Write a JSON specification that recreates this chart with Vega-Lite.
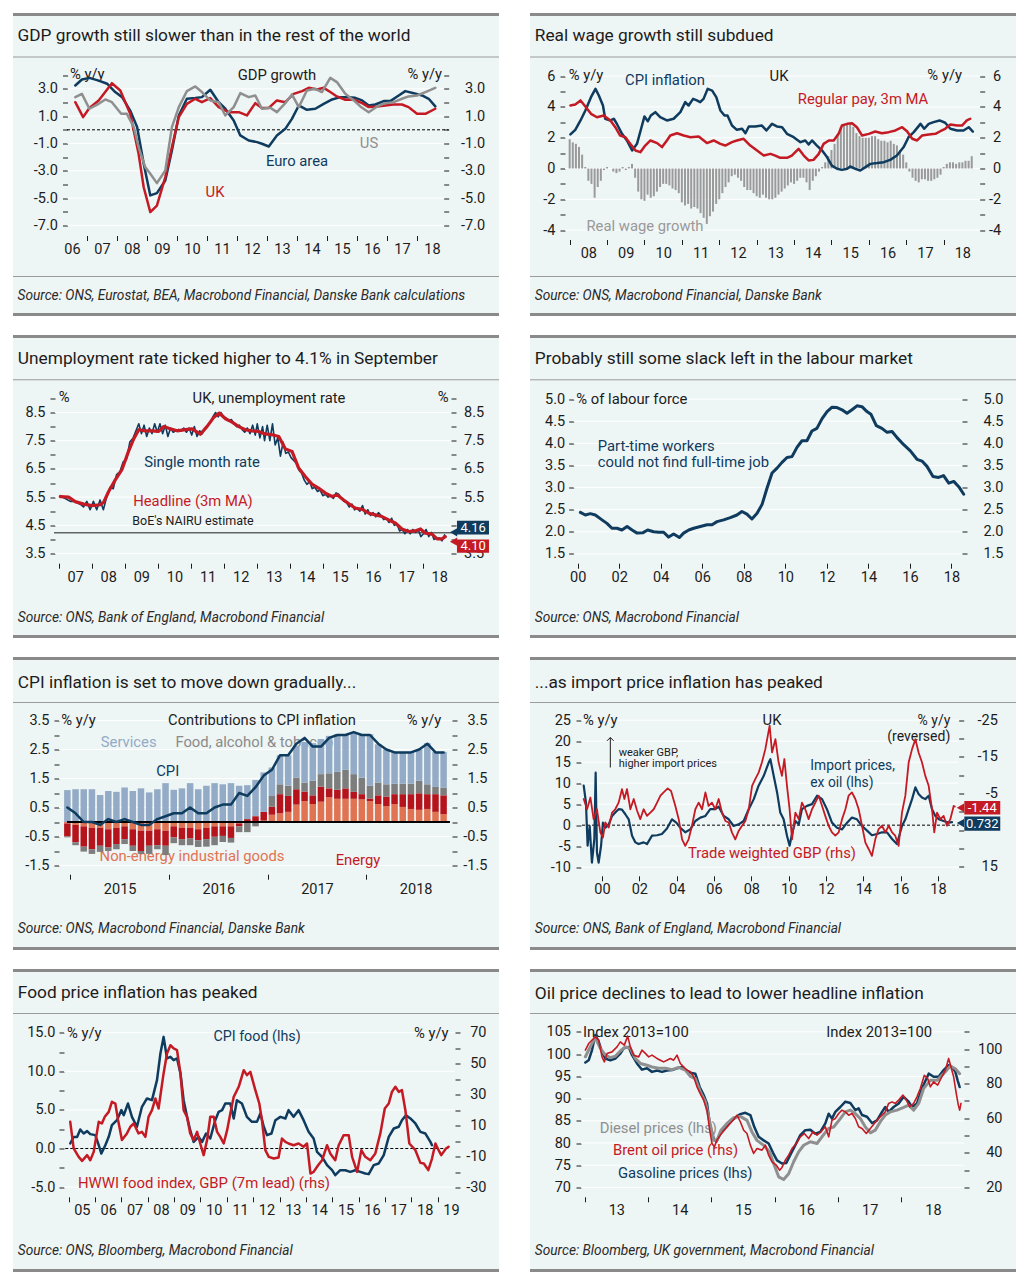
{
"$schema": "https://vega.github.io/schema/vega-lite/v6.json",
"background": "#ffffff",
"padding": {"left": 11, "top": 12.5, "right": 5, "bottom": 5},
"config": {
  "view": {"fill": "#eef5f5", "stroke": null},
  "axis": {"domain": false, "grid": false, "tickSize": 5, "tickCount": 50, "tickColor": "#1c1c1c", "labelColor": "#1c1c1c", "labelFont": "Roboto", "labelFontSize": 14.5, "labelOverlap": false, "labelFlush": false, "title": null},
  "scale": {"continuousPadding": 0},
  "text": {"font": "Roboto"},
  "line": {"strokeJoin": "round", "strokeCap": "round"}
},
"datasets": {
  "p1_uk": [{"t":2006.61,"v":2.02},{"t":2006.87,"v":0.93},{"t":2007.08,"v":1.6},{"t":2007.39,"v":2.15},{"t":2007.83,"v":3.41},{"t":2008.11,"v":2.88},{"t":2008.44,"v":1.17},{"t":2008.72,"v":-1.76},{"t":2008.89,"v":-4.2},{"t":2009.11,"v":-6.02},{"t":2009.33,"v":-5.54},{"t":2009.61,"v":-3.46},{"t":2009.83,"v":-1.27},{"t":2010.06,"v":0.93},{"t":2010.33,"v":1.9},{"t":2010.61,"v":2.27},{"t":2010.83,"v":2.02},{"t":2011.11,"v":2.32},{"t":2011.39,"v":1.66},{"t":2011.72,"v":1.29},{"t":2012.06,"v":1.29},{"t":2012.33,"v":1.05},{"t":2012.61,"v":1.95},{"t":2012.83,"v":1.6},{"t":2013.06,"v":1.6},{"t":2013.33,"v":2.15},{"t":2013.61,"v":2.02},{"t":2013.89,"v":2.63},{"t":2014.17,"v":2.83},{"t":2014.39,"v":3.07},{"t":2014.67,"v":2.95},{"t":2014.89,"v":3.07},{"t":2015.11,"v":2.76},{"t":2015.33,"v":2.44},{"t":2015.61,"v":2.2},{"t":2015.89,"v":2.2},{"t":2016.17,"v":1.95},{"t":2016.39,"v":1.66},{"t":2016.67,"v":1.71},{"t":2016.94,"v":1.78},{"t":2017.22,"v":1.85},{"t":2017.5,"v":1.85},{"t":2017.72,"v":1.66},{"t":2018.0,"v":1.17},{"t":2018.28,"v":1.17},{"t":2018.61,"v":1.54}],
  "p1_ea": [{"t":2006.61,"v":3.24},{"t":2006.83,"v":3.68},{"t":2007.08,"v":3.8},{"t":2007.39,"v":3.6},{"t":2007.67,"v":3.37},{"t":2007.94,"v":2.76},{"t":2008.17,"v":2.39},{"t":2008.44,"v":1.41},{"t":2008.67,"v":0.2},{"t":2008.89,"v":-2.49},{"t":2009.11,"v":-4.8},{"t":2009.33,"v":-4.63},{"t":2009.61,"v":-3.71},{"t":2009.83,"v":-1.51},{"t":2010.06,"v":1.05},{"t":2010.33,"v":2.27},{"t":2010.61,"v":2.32},{"t":2010.83,"v":2.39},{"t":2011.11,"v":2.93},{"t":2011.39,"v":2.02},{"t":2011.61,"v":1.54},{"t":2011.89,"v":0.68},{"t":2012.11,"v":-0.41},{"t":2012.39,"v":-0.78},{"t":2012.67,"v":-0.9},{"t":2012.83,"v":-1.02},{"t":2013.06,"v":-1.22},{"t":2013.33,"v":-0.41},{"t":2013.61,"v":0.07},{"t":2013.83,"v":0.8},{"t":2014.06,"v":1.78},{"t":2014.33,"v":1.46},{"t":2014.61,"v":1.54},{"t":2014.89,"v":1.9},{"t":2015.17,"v":2.22},{"t":2015.44,"v":2.39},{"t":2015.72,"v":2.39},{"t":2015.94,"v":2.34},{"t":2016.17,"v":2.15},{"t":2016.39,"v":1.78},{"t":2016.61,"v":1.85},{"t":2016.89,"v":2.1},{"t":2017.11,"v":2.1},{"t":2017.39,"v":2.51},{"t":2017.61,"v":2.83},{"t":2017.89,"v":2.68},{"t":2018.17,"v":2.51},{"t":2018.39,"v":2.27},{"t":2018.61,"v":1.71}],
  "p1_us": [{"t":2006.61,"v":2.39},{"t":2006.83,"v":2.63},{"t":2007.08,"v":1.54},{"t":2007.39,"v":1.9},{"t":2007.61,"v":2.22},{"t":2007.83,"v":2.02},{"t":2008.14,"v":1.17},{"t":2008.33,"v":1.17},{"t":2008.56,"v":0.2},{"t":2008.72,"v":-1.27},{"t":2008.94,"v":-2.73},{"t":2009.11,"v":-3.22},{"t":2009.33,"v":-3.9},{"t":2009.61,"v":-2.98},{"t":2009.83,"v":0.2},{"t":2010.06,"v":1.66},{"t":2010.33,"v":2.83},{"t":2010.61,"v":3.17},{"t":2010.83,"v":2.76},{"t":2011.11,"v":2.15},{"t":2011.39,"v":2.02},{"t":2011.61,"v":1.05},{"t":2011.89,"v":1.66},{"t":2012.11,"v":2.68},{"t":2012.39,"v":2.39},{"t":2012.61,"v":2.51},{"t":2012.83,"v":1.54},{"t":2013.11,"v":1.61},{"t":2013.33,"v":1.29},{"t":2013.61,"v":1.95},{"t":2013.83,"v":2.59},{"t":2014.06,"v":1.66},{"t":2014.33,"v":2.88},{"t":2014.61,"v":3.0},{"t":2014.83,"v":2.76},{"t":2015.11,"v":3.8},{"t":2015.33,"v":3.49},{"t":2015.61,"v":2.63},{"t":2015.89,"v":2.15},{"t":2016.11,"v":1.71},{"t":2016.39,"v":1.29},{"t":2016.67,"v":1.71},{"t":2016.94,"v":1.95},{"t":2017.22,"v":2.02},{"t":2017.5,"v":2.27},{"t":2017.72,"v":2.44},{"t":2018.0,"v":2.51},{"t":2018.28,"v":2.76},{"t":2018.61,"v":3.07}],
  "p2_cpi": [{"t":2008.02,"v":2.21},{"t":2008.15,"v":2.51},{"t":2008.29,"v":3.12},{"t":2008.42,"v":3.77},{"t":2008.57,"v":4.63},{"t":2008.69,"v":5.17},{"t":2008.78,"v":4.74},{"t":2008.89,"v":4.09},{"t":2008.95,"v":3.23},{"t":2009.09,"v":3.12},{"t":2009.18,"v":3.23},{"t":2009.27,"v":2.86},{"t":2009.4,"v":2.25},{"t":2009.53,"v":1.82},{"t":2009.67,"v":1.17},{"t":2009.8,"v":1.6},{"t":2009.91,"v":2.58},{"t":2010.0,"v":3.38},{"t":2010.09,"v":3.07},{"t":2010.17,"v":3.44},{"t":2010.29,"v":3.66},{"t":2010.42,"v":3.33},{"t":2010.6,"v":3.12},{"t":2010.78,"v":3.23},{"t":2010.96,"v":3.66},{"t":2011.09,"v":4.31},{"t":2011.18,"v":4.09},{"t":2011.3,"v":4.52},{"t":2011.4,"v":4.42},{"t":2011.49,"v":4.31},{"t":2011.58,"v":4.52},{"t":2011.69,"v":5.17},{"t":2011.81,"v":5.06},{"t":2011.92,"v":4.63},{"t":2012.03,"v":3.77},{"t":2012.14,"v":3.44},{"t":2012.22,"v":3.44},{"t":2012.34,"v":2.79},{"t":2012.47,"v":2.51},{"t":2012.61,"v":2.58},{"t":2012.7,"v":2.29},{"t":2012.79,"v":2.73},{"t":2012.96,"v":2.73},{"t":2013.14,"v":2.79},{"t":2013.26,"v":2.47},{"t":2013.41,"v":2.9},{"t":2013.54,"v":2.73},{"t":2013.68,"v":2.68},{"t":2013.81,"v":2.25},{"t":2013.99,"v":2.03},{"t":2014.17,"v":1.71},{"t":2014.3,"v":1.82},{"t":2014.39,"v":1.56},{"t":2014.48,"v":1.82},{"t":2014.61,"v":1.49},{"t":2014.75,"v":1.17},{"t":2014.88,"v":0.74},{"t":2015.01,"v":0.19},{"t":2015.15,"v":-0.02},{"t":2015.28,"v":-0.09},{"t":2015.42,"v":-0.02},{"t":2015.5,"v":0.13},{"t":2015.64,"v":-0.02},{"t":2015.77,"v":-0.13},{"t":2015.91,"v":0.09},{"t":2016.04,"v":0.3},{"t":2016.22,"v":0.35},{"t":2016.4,"v":0.41},{"t":2016.57,"v":0.56},{"t":2016.75,"v":0.84},{"t":2016.93,"v":1.39},{"t":2017.06,"v":2.03},{"t":2017.2,"v":2.36},{"t":2017.38,"v":2.9},{"t":2017.48,"v":2.58},{"t":2017.6,"v":2.9},{"t":2017.73,"v":3.01},{"t":2017.89,"v":3.12},{"t":2018.04,"v":2.97},{"t":2018.18,"v":2.58},{"t":2018.36,"v":2.47},{"t":2018.53,"v":2.47},{"t":2018.67,"v":2.68},{"t":2018.78,"v":2.4}],
  "p2_pay": [{"t":2008.02,"v":4.09},{"t":2008.15,"v":4.16},{"t":2008.29,"v":4.42},{"t":2008.42,"v":4.03},{"t":2008.57,"v":3.55},{"t":2008.73,"v":3.33},{"t":2008.91,"v":3.44},{"t":2009.09,"v":3.12},{"t":2009.22,"v":2.68},{"t":2009.35,"v":2.14},{"t":2009.49,"v":2.03},{"t":2009.62,"v":1.6},{"t":2009.76,"v":1.17},{"t":2009.89,"v":1.06},{"t":2010.02,"v":1.49},{"t":2010.16,"v":1.82},{"t":2010.34,"v":1.65},{"t":2010.47,"v":1.39},{"t":2010.6,"v":1.82},{"t":2010.69,"v":2.14},{"t":2010.87,"v":2.29},{"t":2011.05,"v":2.14},{"t":2011.23,"v":2.03},{"t":2011.45,"v":2.08},{"t":2011.67,"v":1.65},{"t":2011.85,"v":1.82},{"t":2012.03,"v":1.6},{"t":2012.16,"v":1.49},{"t":2012.34,"v":1.71},{"t":2012.47,"v":1.82},{"t":2012.65,"v":1.93},{"t":2012.83,"v":1.49},{"t":2013.01,"v":1.17},{"t":2013.19,"v":0.84},{"t":2013.37,"v":0.95},{"t":2013.5,"v":0.84},{"t":2013.63,"v":0.69},{"t":2013.81,"v":0.69},{"t":2013.94,"v":0.84},{"t":2014.12,"v":1.28},{"t":2014.26,"v":0.84},{"t":2014.39,"v":0.52},{"t":2014.52,"v":0.56},{"t":2014.66,"v":0.95},{"t":2014.79,"v":1.6},{"t":2014.93,"v":1.82},{"t":2015.06,"v":1.82},{"t":2015.19,"v":2.25},{"t":2015.28,"v":2.79},{"t":2015.42,"v":2.9},{"t":2015.55,"v":2.94},{"t":2015.68,"v":2.68},{"t":2015.82,"v":2.14},{"t":2016.0,"v":2.25},{"t":2016.17,"v":2.4},{"t":2016.35,"v":2.29},{"t":2016.53,"v":2.36},{"t":2016.71,"v":2.47},{"t":2016.89,"v":2.68},{"t":2017.02,"v":2.42},{"t":2017.16,"v":1.93},{"t":2017.29,"v":1.82},{"t":2017.42,"v":2.14},{"t":2017.6,"v":2.21},{"t":2017.78,"v":2.25},{"t":2017.91,"v":2.42},{"t":2018.04,"v":2.58},{"t":2018.18,"v":2.86},{"t":2018.36,"v":2.79},{"t":2018.49,"v":2.79},{"t":2018.62,"v":3.12},{"t":2018.71,"v":3.23}],
  "p2_rw": [{"t":2008.0,"v":1.9},{"t":2008.083,"v":1.7},{"t":2008.167,"v":1.6},{"t":2008.25,"v":1.4},{"t":2008.333,"v":0.9},{"t":2008.417,"v":0.1},{"t":2008.5,"v":-0.8},{"t":2008.583,"v":-1.0},{"t":2008.667,"v":-1.9},{"t":2008.75,"v":-1.2},{"t":2008.833,"v":-0.8},{"t":2008.917,"v":-0.1},
    {"t":2009.0,"v":0.1},{"t":2009.083,"v":0.0},{"t":2009.167,"v":-0.2},{"t":2009.25,"v":-0.3},{"t":2009.333,"v":-0.2},{"t":2009.417,"v":0.1},{"t":2009.5,"v":-0.1},{"t":2009.583,"v":0.1},{"t":2009.667,"v":0.3},{"t":2009.75,"v":-0.6},{"t":2009.833,"v":-1.5},{"t":2009.917,"v":-2.0},
    {"t":2010.0,"v":-2.1},{"t":2010.083,"v":-1.7},{"t":2010.167,"v":-1.9},{"t":2010.25,"v":-1.8},{"t":2010.333,"v":-1.5},{"t":2010.417,"v":-1.2},{"t":2010.5,"v":-1.0},{"t":2010.583,"v":-1.0},{"t":2010.667,"v":-1.1},{"t":2010.75,"v":-1.3},{"t":2010.833,"v":-1.4},{"t":2010.917,"v":-1.6},
    {"t":2011.0,"v":-2.2},{"t":2011.083,"v":-2.4},{"t":2011.167,"v":-2.3},{"t":2011.25,"v":-2.6},{"t":2011.333,"v":-2.5},{"t":2011.417,"v":-2.6},{"t":2011.5,"v":-2.9},{"t":2011.583,"v":-3.2},{"t":2011.667,"v":-3.6},{"t":2011.75,"v":-3.1},{"t":2011.833,"v":-2.8},{"t":2011.917,"v":-2.3},
    {"t":2012.0,"v":-2.0},{"t":2012.083,"v":-1.6},{"t":2012.167,"v":-1.2},{"t":2012.25,"v":-0.9},{"t":2012.333,"v":-0.5},{"t":2012.417,"v":-0.4},{"t":2012.5,"v":-0.6},{"t":2012.583,"v":-0.8},{"t":2012.667,"v":-1.2},{"t":2012.75,"v":-1.4},{"t":2012.833,"v":-1.4},{"t":2012.917,"v":-1.6},
    {"t":2013.0,"v":-1.8},{"t":2013.083,"v":-1.9},{"t":2013.167,"v":-1.7},{"t":2013.25,"v":-1.9},{"t":2013.333,"v":-2.0},{"t":2013.417,"v":-2.0},{"t":2013.5,"v":-1.9},{"t":2013.583,"v":-1.7},{"t":2013.667,"v":-1.5},{"t":2013.75,"v":-1.3},{"t":2013.833,"v":-1.1},{"t":2013.917,"v":-0.9},
    {"t":2014.0,"v":-1.0},{"t":2014.083,"v":-0.8},{"t":2014.167,"v":-0.6},{"t":2014.25,"v":-0.6},{"t":2014.333,"v":-0.9},{"t":2014.417,"v":-1.4},{"t":2014.5,"v":-0.8},{"t":2014.583,"v":-0.5},{"t":2014.667,"v":-0.2},{"t":2014.75,"v":0.1},{"t":2014.833,"v":0.4},{"t":2014.917,"v":0.8},
    {"t":2015.0,"v":1.2},{"t":2015.083,"v":1.6},{"t":2015.167,"v":2.2},{"t":2015.25,"v":2.7},{"t":2015.333,"v":2.9},{"t":2015.417,"v":2.9},{"t":2015.5,"v":2.9},{"t":2015.583,"v":2.7},{"t":2015.667,"v":2.3},{"t":2015.75,"v":2.1},{"t":2015.833,"v":2.0},{"t":2015.917,"v":2.0},
    {"t":2016.0,"v":2.0},{"t":2016.083,"v":2.1},{"t":2016.167,"v":2.1},{"t":2016.25,"v":1.9},{"t":2016.333,"v":1.8},{"t":2016.417,"v":1.8},{"t":2016.5,"v":1.7},{"t":2016.583,"v":1.8},{"t":2016.667,"v":1.6},{"t":2016.75,"v":1.5},{"t":2016.833,"v":1.2},{"t":2016.917,"v":0.9},
    {"t":2017.0,"v":0.4},{"t":2017.083,"v":-0.2},{"t":2017.167,"v":-0.6},{"t":2017.25,"v":-0.8},{"t":2017.333,"v":-0.9},{"t":2017.417,"v":-0.7},{"t":2017.5,"v":-0.7},{"t":2017.583,"v":-0.8},{"t":2017.667,"v":-0.8},{"t":2017.75,"v":-0.7},{"t":2017.833,"v":-0.6},{"t":2017.917,"v":-0.4},
    {"t":2018.0,"v":0.1},{"t":2018.083,"v":0.3},{"t":2018.167,"v":0.4},{"t":2018.25,"v":0.4},{"t":2018.333,"v":0.3},{"t":2018.417,"v":0.4},{"t":2018.5,"v":0.4},{"t":2018.583,"v":0.5},{"t":2018.667,"v":0.5},{"t":2018.75,"v":0.8}],
  "p3_single": [{"t":2007.05,"v":5.55},{"t":2007.2,"v":5.45},{"t":2007.35,"v":5.35},{"t":2007.45,"v":5.35},{"t":2007.55,"v":5.3},{"t":2007.65,"v":5.25},{"t":2007.75,"v":5.15},{"t":2007.85,"v":5.35},{"t":2007.95,"v":5.05},{"t":2008.05,"v":5.35},{"t":2008.15,"v":5.05},{"t":2008.25,"v":5.4},{"t":2008.35,"v":5.05},{"t":2008.45,"v":5.5},{"t":2008.55,"v":5.85},{"t":2008.65,"v":5.8},{"t":2008.75,"v":6.3},{"t":2008.85,"v":6.4},{"t":2008.95,"v":6.75},{"t":2009.05,"v":6.85},{"t":2009.15,"v":7.45},{"t":2009.25,"v":7.6},{"t":2009.35,"v":7.9},{"t":2009.42,"v":8.1},{"t":2009.5,"v":7.75},{"t":2009.58,"v":8.05},{"t":2009.66,"v":7.65},{"t":2009.74,"v":7.95},{"t":2009.82,"v":7.75},{"t":2009.9,"v":8.1},{"t":2009.98,"v":7.8},{"t":2010.06,"v":8.1},{"t":2010.14,"v":7.75},{"t":2010.22,"v":8.05},{"t":2010.3,"v":7.65},{"t":2010.38,"v":7.95},{"t":2010.46,"v":7.8},{"t":2010.54,"v":7.85},{"t":2010.62,"v":7.9},{"t":2010.7,"v":7.85},{"t":2010.78,"v":7.95},{"t":2010.86,"v":7.8},{"t":2010.94,"v":7.95},{"t":2011.02,"v":7.7},{"t":2011.1,"v":8.0},{"t":2011.18,"v":7.65},{"t":2011.26,"v":7.85},{"t":2011.34,"v":7.75},{"t":2011.42,"v":7.95},{"t":2011.5,"v":8.05},{"t":2011.58,"v":8.15},{"t":2011.66,"v":8.35},{"t":2011.74,"v":8.5},{"t":2011.82,"v":8.35},{"t":2011.9,"v":8.5},{"t":2011.98,"v":8.35},{"t":2012.06,"v":8.3},{"t":2012.14,"v":8.2},{"t":2012.22,"v":8.25},{"t":2012.3,"v":8.1},{"t":2012.38,"v":8.0},{"t":2012.46,"v":8.05},{"t":2012.54,"v":7.9},{"t":2012.62,"v":7.8},{"t":2012.7,"v":7.95},{"t":2012.78,"v":7.75},{"t":2012.86,"v":8.05},{"t":2012.94,"v":7.7},{"t":2013.0,"v":8.1},{"t":2013.08,"v":7.6},{"t":2013.16,"v":8.0},{"t":2013.22,"v":7.5},{"t":2013.3,"v":8.05},{"t":2013.38,"v":7.5},{"t":2013.46,"v":8.1},{"t":2013.54,"v":7.35},{"t":2013.62,"v":7.6},{"t":2013.7,"v":6.95},{"t":2013.78,"v":7.45},{"t":2013.86,"v":7.05},{"t":2013.94,"v":7.1},{"t":2014.02,"v":6.9},{"t":2014.1,"v":6.8},{"t":2014.18,"v":6.7},{"t":2014.26,"v":6.45},{"t":2014.34,"v":6.35},{"t":2014.42,"v":6.1},{"t":2014.5,"v":5.95},{"t":2014.58,"v":6.05},{"t":2014.66,"v":5.8},{"t":2014.74,"v":5.85},{"t":2014.82,"v":5.7},{"t":2014.9,"v":5.75},{"t":2014.98,"v":5.55},{"t":2015.06,"v":5.6},{"t":2015.14,"v":5.5},{"t":2015.22,"v":5.55},{"t":2015.3,"v":5.45},{"t":2015.38,"v":5.65},{"t":2015.46,"v":5.6},{"t":2015.54,"v":5.45},{"t":2015.62,"v":5.35},{"t":2015.7,"v":5.3},{"t":2015.78,"v":5.15},{"t":2015.86,"v":5.25},{"t":2015.94,"v":5.05},{"t":2016.02,"v":5.1},{"t":2016.1,"v":5.0},{"t":2016.18,"v":5.2},{"t":2016.26,"v":4.9},{"t":2016.34,"v":5.05},{"t":2016.42,"v":4.85},{"t":2016.5,"v":4.95},{"t":2016.58,"v":4.8},{"t":2016.66,"v":4.95},{"t":2016.74,"v":4.85},{"t":2016.82,"v":4.7},{"t":2016.9,"v":4.75},{"t":2016.98,"v":4.6},{"t":2017.06,"v":4.75},{"t":2017.14,"v":4.5},{"t":2017.22,"v":4.55},{"t":2017.3,"v":4.3},{"t":2017.38,"v":4.35},{"t":2017.46,"v":4.2},{"t":2017.54,"v":4.35},{"t":2017.62,"v":4.2},{"t":2017.7,"v":4.35},{"t":2017.78,"v":4.25},{"t":2017.86,"v":4.35},{"t":2017.94,"v":4.1},{"t":2018.02,"v":4.2},{"t":2018.1,"v":4.35},{"t":2018.18,"v":4.1},{"t":2018.26,"v":4.25},{"t":2018.34,"v":4.0},{"t":2018.42,"v":4.05},{"t":2018.5,"v":4.05},{"t":2018.58,"v":3.95},{"t":2018.66,"v":4.16}],
  "p3_head": [{"t":2007.05,"v":5.52},{"t":2007.3,"v":5.5},{"t":2007.5,"v":5.34},{"t":2007.76,"v":5.25},{"t":2008.0,"v":5.2},{"t":2008.26,"v":5.23},{"t":2008.36,"v":5.32},{"t":2008.51,"v":5.7},{"t":2008.71,"v":6.11},{"t":2008.91,"v":6.47},{"t":2009.11,"v":7.12},{"t":2009.27,"v":7.57},{"t":2009.42,"v":7.89},{"t":2009.62,"v":7.85},{"t":2009.82,"v":7.85},{"t":2010.02,"v":7.83},{"t":2010.17,"v":8.0},{"t":2010.37,"v":7.92},{"t":2010.58,"v":7.85},{"t":2010.83,"v":7.89},{"t":2011.03,"v":7.92},{"t":2011.28,"v":7.73},{"t":2011.48,"v":8.0},{"t":2011.68,"v":8.32},{"t":2011.85,"v":8.48},{"t":2012.04,"v":8.28},{"t":2012.24,"v":8.16},{"t":2012.44,"v":8.0},{"t":2012.64,"v":7.89},{"t":2012.84,"v":7.85},{"t":2013.04,"v":7.83},{"t":2013.24,"v":7.74},{"t":2013.45,"v":7.71},{"t":2013.65,"v":7.65},{"t":2013.85,"v":7.21},{"t":2014.05,"v":7.12},{"t":2014.25,"v":6.53},{"t":2014.45,"v":6.23},{"t":2014.65,"v":5.96},{"t":2014.85,"v":5.82},{"t":2015.06,"v":5.64},{"t":2015.26,"v":5.52},{"t":2015.41,"v":5.58},{"t":2015.61,"v":5.4},{"t":2015.81,"v":5.23},{"t":2015.96,"v":5.11},{"t":2016.16,"v":5.07},{"t":2016.37,"v":4.93},{"t":2016.57,"v":4.87},{"t":2016.77,"v":4.81},{"t":2016.97,"v":4.69},{"t":2017.17,"v":4.58},{"t":2017.37,"v":4.37},{"t":2017.57,"v":4.28},{"t":2017.77,"v":4.3},{"t":2017.93,"v":4.37},{"t":2018.08,"v":4.22},{"t":2018.28,"v":4.19},{"t":2018.43,"v":4.02},{"t":2018.58,"v":4.02},{"t":2018.68,"v":4.1}],
  "p4_pt": [{"t":2000.13,"v":2.44},{"t":2000.37,"v":2.38},{"t":2000.61,"v":2.41},{"t":2000.85,"v":2.38},{"t":2001.17,"v":2.27},{"t":2001.41,"v":2.19},{"t":2001.65,"v":2.08},{"t":2001.89,"v":2.08},{"t":2002.13,"v":2.04},{"t":2002.38,"v":2.12},{"t":2002.62,"v":2.04},{"t":2002.86,"v":1.97},{"t":2003.15,"v":1.98},{"t":2003.37,"v":2.04},{"t":2003.66,"v":2.0},{"t":2003.9,"v":1.99},{"t":2004.14,"v":1.99},{"t":2004.38,"v":1.88},{"t":2004.62,"v":1.95},{"t":2004.9,"v":1.87},{"t":2005.1,"v":1.97},{"t":2005.35,"v":2.04},{"t":2005.59,"v":2.08},{"t":2005.91,"v":2.12},{"t":2006.23,"v":2.16},{"t":2006.47,"v":2.16},{"t":2006.71,"v":2.23},{"t":2007.03,"v":2.27},{"t":2007.35,"v":2.32},{"t":2007.67,"v":2.38},{"t":2007.91,"v":2.46},{"t":2008.15,"v":2.4},{"t":2008.39,"v":2.29},{"t":2008.64,"v":2.42},{"t":2008.88,"v":2.62},{"t":2009.12,"v":2.99},{"t":2009.36,"v":3.33},{"t":2009.6,"v":3.44},{"t":2009.84,"v":3.57},{"t":2010.08,"v":3.68},{"t":2010.32,"v":3.7},{"t":2010.56,"v":3.91},{"t":2010.8,"v":4.06},{"t":2011.04,"v":4.06},{"t":2011.28,"v":4.28},{"t":2011.52,"v":4.34},{"t":2011.77,"v":4.56},{"t":2012.01,"v":4.72},{"t":2012.25,"v":4.82},{"t":2012.49,"v":4.81},{"t":2012.73,"v":4.76},{"t":2012.97,"v":4.68},{"t":2013.21,"v":4.76},{"t":2013.45,"v":4.85},{"t":2013.69,"v":4.83},{"t":2013.93,"v":4.72},{"t":2014.12,"v":4.66},{"t":2014.38,"v":4.4},{"t":2014.65,"v":4.34},{"t":2014.9,"v":4.25},{"t":2015.14,"v":4.27},{"t":2015.38,"v":4.13},{"t":2015.7,"v":3.97},{"t":2016.02,"v":3.83},{"t":2016.34,"v":3.64},{"t":2016.58,"v":3.6},{"t":2016.82,"v":3.48},{"t":2017.11,"v":3.25},{"t":2017.38,"v":3.23},{"t":2017.62,"v":3.27},{"t":2017.87,"v":3.1},{"t":2018.11,"v":3.14},{"t":2018.35,"v":3.02},{"t":2018.59,"v":2.85}],
  "p5_bars": [{"t":2014.97,"Core":-0.05,"Energy":-0.45,"Food":-0.03,"Services":1.1},{"t":2015.053,"Core":-0.1,"Energy":-0.6,"Food":-0.1,"Services":1.13},{"t":2015.136,"Core":-0.15,"Energy":-0.7,"Food":-0.17,"Services":1.13},{"t":2015.219,"Core":-0.2,"Energy":-0.74,"Food":-0.16,"Services":1.13},{"t":2015.302,"Core":-0.2,"Energy":-0.62,"Food":-0.21,"Services":0.93},{"t":2015.385,"Core":-0.25,"Energy":-0.63,"Food":-0.12,"Services":1.07},{"t":2015.467,"Core":-0.2,"Energy":-0.56,"Food":-0.18,"Services":1.04},{"t":2015.55,"Core":-0.15,"Energy":-0.44,"Food":-0.17,"Services":1.19},{"t":2015.633,"Core":-0.25,"Energy":-0.57,"Food":-0.18,"Services":1.07},{"t":2015.716,"Core":-0.3,"Energy":-0.7,"Food":-0.1,"Services":1.16},{"t":2015.799,"Core":-0.3,"Energy":-0.52,"Food":-0.28,"Services":1.02},{"t":2015.882,"Core":-0.25,"Energy":-0.55,"Food":-0.14,"Services":1.13},{"t":2015.965,"Core":-0.3,"Energy":-0.52,"Food":-0.32,"Services":1.34},{"t":2016.048,"Core":-0.15,"Energy":-0.38,"Food":-0.2,"Services":1.11},{"t":2016.131,"Core":-0.2,"Energy":-0.39,"Food":-0.21,"Services":1.16},{"t":2016.214,"Core":-0.2,"Energy":-0.37,"Food":-0.23,"Services":1.34},{"t":2016.296,"Core":-0.25,"Energy":-0.38,"Food":-0.23,"Services":1.13},{"t":2016.379,"Core":-0.2,"Energy":-0.39,"Food":-0.26,"Services":1.25},{"t":2016.462,"Core":-0.15,"Energy":-0.36,"Food":-0.29,"Services":1.34},{"t":2016.545,"Core":-0.15,"Energy":-0.33,"Food":-0.21,"Services":1.3},{"t":2016.628,"Core":-0.15,"Energy":-0.4,"Food":-0.16,"Services":1.34},{"t":2016.711,"Core":-0.05,"Energy":-0.1,"Food":-0.2,"Services":1.25},{"t":2016.794,"Core":0.0,"Energy":0.1,"Food":-0.35,"Services":1.17},{"t":2016.877,"Core":0.0,"Energy":0.2,"Food":-0.15,"Services":1.25},{"t":2016.96,"Core":0.05,"Energy":0.3,"Food":0.0,"Services":1.36},{"t":2017.043,"Core":0.25,"Energy":0.28,"Food":0.37,"Services":0.98},{"t":2017.125,"Core":0.3,"Energy":0.66,"Food":0.34,"Services":1.0},{"t":2017.208,"Core":0.35,"Energy":0.55,"Food":0.35,"Services":1.05},{"t":2017.291,"Core":0.6,"Energy":0.53,"Food":0.4,"Services":1.1},{"t":2017.374,"Core":0.72,"Energy":0.33,"Food":0.31,"Services":1.4},{"t":2017.457,"Core":0.62,"Energy":0.3,"Food":0.5,"Services":1.3},{"t":2017.54,"Core":0.7,"Energy":0.52,"Food":0.43,"Services":1.21},{"t":2017.623,"Core":0.85,"Energy":0.31,"Food":0.52,"Services":1.29},{"t":2017.706,"Core":0.8,"Energy":0.31,"Food":0.62,"Services":1.3},{"t":2017.789,"Core":0.8,"Energy":0.36,"Food":0.64,"Services":1.23},{"t":2017.872,"Core":0.8,"Energy":0.24,"Food":0.61,"Services":1.44},{"t":2017.954,"Core":0.78,"Energy":0.18,"Food":0.57,"Services":1.5},{"t":2018.037,"Core":0.72,"Energy":0.09,"Food":0.44,"Services":1.78},{"t":2018.12,"Core":0.62,"Energy":0.3,"Food":0.44,"Services":1.32},{"t":2018.203,"Core":0.55,"Energy":0.33,"Food":0.42,"Services":1.21},{"t":2018.286,"Core":0.62,"Energy":0.34,"Food":0.36,"Services":1.1},{"t":2018.369,"Core":0.52,"Energy":0.44,"Food":0.36,"Services":1.1},{"t":2018.452,"Core":0.45,"Energy":0.51,"Food":0.36,"Services":1.1},{"t":2018.535,"Core":0.42,"Energy":0.57,"Food":0.43,"Services":1.09},{"t":2018.618,"Core":0.45,"Energy":0.51,"Food":0.34,"Services":1.42},{"t":2018.701,"Core":0.35,"Energy":0.61,"Food":0.25,"Services":1.21},{"t":2018.783,"Core":0.27,"Energy":0.65,"Food":0.27,"Services":1.23}],
  "p5_cpi": [{"t":2014.97,"v":0.5},{"t":2015.053,"v":0.3},{"t":2015.136,"v":0.0},{"t":2015.219,"v":0.0},{"t":2015.302,"v":-0.1},{"t":2015.385,"v":0.1},{"t":2015.467,"v":0.0},{"t":2015.55,"v":0.1},{"t":2015.633,"v":0.0},{"t":2015.716,"v":-0.1},{"t":2015.799,"v":-0.1},{"t":2015.882,"v":0.1},{"t":2015.965,"v":0.2},{"t":2016.048,"v":0.3},{"t":2016.131,"v":0.3},{"t":2016.214,"v":0.5},{"t":2016.296,"v":0.3},{"t":2016.379,"v":0.3},{"t":2016.462,"v":0.5},{"t":2016.545,"v":0.6},{"t":2016.628,"v":0.6},{"t":2016.711,"v":1.0},{"t":2016.794,"v":0.9},{"t":2016.877,"v":1.2},{"t":2016.96,"v":1.6},{"t":2017.043,"v":1.8},{"t":2017.125,"v":2.3},{"t":2017.208,"v":2.3},{"t":2017.291,"v":2.7},{"t":2017.374,"v":2.9},{"t":2017.457,"v":2.6},{"t":2017.54,"v":2.6},{"t":2017.623,"v":2.9},{"t":2017.706,"v":3.0},{"t":2017.789,"v":3.0},{"t":2017.872,"v":3.1},{"t":2017.954,"v":3.0},{"t":2018.037,"v":3.0},{"t":2018.12,"v":2.7},{"t":2018.203,"v":2.5},{"t":2018.286,"v":2.4},{"t":2018.369,"v":2.4},{"t":2018.452,"v":2.4},{"t":2018.535,"v":2.5},{"t":2018.618,"v":2.7},{"t":2018.701,"v":2.4},{"t":2018.783,"v":2.4}],
  "p6_imp": [{"t":1999.02,"v":9.4},{"t":1999.14,"v":5.4},{"t":1999.23,"v":-4.9},{"t":1999.34,"v":-0.2},{"t":1999.46,"v":-8.9},{"t":1999.59,"v":-3.3},{"t":1999.66,"v":12.5},{"t":1999.73,"v":-6.5},{"t":1999.82,"v":-8.9},{"t":1999.95,"v":-4.9},{"t":2000.05,"v":0.6},{"t":2000.18,"v":-0.6},{"t":2000.36,"v":0.2},{"t":2000.54,"v":2.2},{"t":2000.71,"v":3.0},{"t":2000.89,"v":3.8},{"t":2001.07,"v":3.7},{"t":2001.25,"v":2.6},{"t":2001.43,"v":1.4},{"t":2001.61,"v":-2.5},{"t":2001.79,"v":-4.1},{"t":2001.96,"v":-4.5},{"t":2002.23,"v":-4.1},{"t":2002.41,"v":-4.5},{"t":2002.68,"v":-2.5},{"t":2002.95,"v":-2.4},{"t":2003.21,"v":-2.1},{"t":2003.48,"v":-0.8},{"t":2003.75,"v":1.4},{"t":2003.98,"v":0.6},{"t":2004.2,"v":-0.6},{"t":2004.46,"v":-1.7},{"t":2004.73,"v":-1.0},{"t":2005.0,"v":1.0},{"t":2005.27,"v":1.8},{"t":2005.54,"v":2.2},{"t":2005.8,"v":3.8},{"t":2006.07,"v":3.8},{"t":2006.25,"v":4.4},{"t":2006.52,"v":2.2},{"t":2006.79,"v":1.4},{"t":2007.05,"v":-0.2},{"t":2007.32,"v":0.2},{"t":2007.59,"v":1.0},{"t":2007.86,"v":3.8},{"t":2008.13,"v":6.2},{"t":2008.39,"v":9.4},{"t":2008.66,"v":11.7},{"t":2008.93,"v":14.9},{"t":2009.02,"v":15.7},{"t":2009.2,"v":11.7},{"t":2009.38,"v":7.8},{"t":2009.55,"v":3.0},{"t":2009.73,"v":1.4},{"t":2009.91,"v":-2.5},{"t":2010.05,"v":-4.9},{"t":2010.18,"v":-2.1},{"t":2010.36,"v":1.0},{"t":2010.54,"v":0.2},{"t":2010.71,"v":3.8},{"t":2010.98,"v":4.6},{"t":2011.25,"v":5.0},{"t":2011.52,"v":7.0},{"t":2011.79,"v":6.2},{"t":2012.05,"v":3.8},{"t":2012.32,"v":0.6},{"t":2012.59,"v":-0.6},{"t":2012.86,"v":-1.0},{"t":2013.13,"v":0.6},{"t":2013.39,"v":1.8},{"t":2013.66,"v":1.4},{"t":2013.93,"v":-0.2},{"t":2014.2,"v":-1.3},{"t":2014.46,"v":-2.4},{"t":2014.73,"v":-2.1},{"t":2015.0,"v":-1.7},{"t":2015.27,"v":-1.7},{"t":2015.54,"v":-3.3},{"t":2015.8,"v":-4.5},{"t":2016.07,"v":-0.2},{"t":2016.25,"v":1.4},{"t":2016.43,"v":3.8},{"t":2016.61,"v":6.2},{"t":2016.79,"v":9.0},{"t":2016.96,"v":7.4},{"t":2017.14,"v":6.6},{"t":2017.32,"v":6.2},{"t":2017.5,"v":7.0},{"t":2017.68,"v":3.8},{"t":2017.86,"v":2.2},{"t":2018.04,"v":1.4},{"t":2018.3,"v":1.0},{"t":2018.57,"v":0.6},{"t":2018.75,"v":0.73}],
  "p6_gbp": [{"t":1999.02,"v":-3.5},{"t":1999.2,"v":-0.7},{"t":1999.38,"v":-3.9},{"t":1999.55,"v":2.0},{"t":1999.73,"v":-0.7},{"t":1999.91,"v":5.6},{"t":2000.05,"v":7.0},{"t":2000.18,"v":2.9},{"t":2000.36,"v":4.3},{"t":2000.54,"v":0.2},{"t":2000.71,"v":-0.7},{"t":2000.89,"v":-2.5},{"t":2001.07,"v":-6.2},{"t":2001.2,"v":-3.5},{"t":2001.34,"v":-6.2},{"t":2001.52,"v":-0.7},{"t":2001.7,"v":-3.5},{"t":2001.88,"v":-0.3},{"t":2002.05,"v":2.0},{"t":2002.23,"v":-0.7},{"t":2002.41,"v":1.1},{"t":2002.59,"v":0.2},{"t":2002.77,"v":-0.7},{"t":2002.95,"v":-2.5},{"t":2003.13,"v":-4.4},{"t":2003.3,"v":-5.3},{"t":2003.52,"v":-6.4},{"t":2003.7,"v":-5.7},{"t":2003.93,"v":-1.6},{"t":2004.11,"v":2.0},{"t":2004.29,"v":7.5},{"t":2004.46,"v":9.3},{"t":2004.64,"v":7.5},{"t":2004.82,"v":3.8},{"t":2005.0,"v":-0.7},{"t":2005.18,"v":-2.5},{"t":2005.36,"v":-0.7},{"t":2005.54,"v":-5.3},{"t":2005.71,"v":-1.6},{"t":2005.89,"v":-2.5},{"t":2006.07,"v":-0.7},{"t":2006.25,"v":-3.5},{"t":2006.43,"v":0.2},{"t":2006.61,"v":2.5},{"t":2006.79,"v":2.9},{"t":2006.96,"v":5.6},{"t":2007.14,"v":7.5},{"t":2007.32,"v":5.2},{"t":2007.5,"v":3.8},{"t":2007.68,"v":2.5},{"t":2007.86,"v":-0.7},{"t":2008.04,"v":-7.1},{"t":2008.21,"v":-8.9},{"t":2008.39,"v":-10.7},{"t":2008.57,"v":-13.5},{"t":2008.75,"v":-17.1},{"t":2008.88,"v":-20.7},{"t":2008.98,"v":-23.5},{"t":2009.11,"v":-16.2},{"t":2009.29,"v":-19.8},{"t":2009.46,"v":-13.5},{"t":2009.64,"v":-9.8},{"t":2009.77,"v":-14.4},{"t":2009.91,"v":-7.1},{"t":2010.05,"v":-0.7},{"t":2010.18,"v":7.5},{"t":2010.36,"v":0.2},{"t":2010.54,"v":2.0},{"t":2010.71,"v":-2.5},{"t":2010.89,"v":-0.7},{"t":2011.07,"v":2.0},{"t":2011.25,"v":-0.7},{"t":2011.43,"v":-2.5},{"t":2011.61,"v":-4.4},{"t":2011.79,"v":-1.6},{"t":2011.96,"v":1.1},{"t":2012.14,"v":3.8},{"t":2012.32,"v":5.6},{"t":2012.5,"v":6.5},{"t":2012.68,"v":5.6},{"t":2012.86,"v":2.0},{"t":2013.04,"v":-0.7},{"t":2013.21,"v":-4.4},{"t":2013.39,"v":-5.3},{"t":2013.57,"v":-3.5},{"t":2013.75,"v":-0.7},{"t":2013.93,"v":3.8},{"t":2014.11,"v":8.4},{"t":2014.29,"v":10.2},{"t":2014.46,"v":12.0},{"t":2014.64,"v":7.5},{"t":2014.82,"v":4.7},{"t":2015.0,"v":3.8},{"t":2015.18,"v":5.6},{"t":2015.36,"v":3.8},{"t":2015.54,"v":5.6},{"t":2015.71,"v":6.5},{"t":2015.89,"v":9.3},{"t":2016.07,"v":0.2},{"t":2016.25,"v":-4.4},{"t":2016.43,"v":-13.5},{"t":2016.61,"v":-17.1},{"t":2016.79,"v":-19.8},{"t":2016.96,"v":-16.2},{"t":2017.14,"v":-13.5},{"t":2017.32,"v":-9.8},{"t":2017.5,"v":-7.1},{"t":2017.68,"v":-0.7},{"t":2017.8,"v":5.6},{"t":2017.95,"v":0.2},{"t":2018.13,"v":2.0},{"t":2018.3,"v":1.1},{"t":2018.48,"v":3.8},{"t":2018.66,"v":2.0},{"t":2018.84,"v":-1.6},{"t":2018.9,"v":-1.44}],
  "p7_cpi": [{"t":2005.06,"v":0.65},{"t":2005.19,"v":1.5},{"t":2005.32,"v":1.5},{"t":2005.44,"v":2.46},{"t":2005.57,"v":1.94},{"t":2005.7,"v":2.25},{"t":2005.82,"v":1.86},{"t":2006.01,"v":1.73},{"t":2006.14,"v":0.43},{"t":2006.24,"v":-0.65},{"t":2006.39,"v":0.43},{"t":2006.52,"v":1.51},{"t":2006.64,"v":3.02},{"t":2006.83,"v":3.67},{"t":2007.0,"v":4.97},{"t":2007.09,"v":4.32},{"t":2007.25,"v":5.83},{"t":2007.4,"v":4.1},{"t":2007.59,"v":2.81},{"t":2007.78,"v":5.4},{"t":2007.97,"v":6.48},{"t":2008.16,"v":6.26},{"t":2008.35,"v":8.85},{"t":2008.48,"v":12.31},{"t":2008.6,"v":14.46},{"t":2008.73,"v":11.66},{"t":2008.86,"v":11.87},{"t":2008.98,"v":11.44},{"t":2009.11,"v":11.66},{"t":2009.24,"v":9.72},{"t":2009.36,"v":6.26},{"t":2009.49,"v":4.1},{"t":2009.61,"v":2.37},{"t":2009.74,"v":0.86},{"t":2009.93,"v":1.51},{"t":2010.06,"v":0.86},{"t":2010.21,"v":1.94},{"t":2010.37,"v":1.3},{"t":2010.56,"v":3.67},{"t":2010.69,"v":4.75},{"t":2010.82,"v":4.97},{"t":2010.94,"v":5.83},{"t":2011.13,"v":5.83},{"t":2011.26,"v":3.89},{"t":2011.38,"v":6.26},{"t":2011.57,"v":5.83},{"t":2011.76,"v":4.1},{"t":2011.95,"v":3.45},{"t":2012.14,"v":3.45},{"t":2012.27,"v":4.53},{"t":2012.4,"v":2.81},{"t":2012.52,"v":1.73},{"t":2012.69,"v":1.94},{"t":2012.84,"v":3.67},{"t":2013.03,"v":4.1},{"t":2013.22,"v":3.89},{"t":2013.34,"v":4.97},{"t":2013.53,"v":4.1},{"t":2013.72,"v":4.97},{"t":2013.91,"v":3.67},{"t":2014.1,"v":2.16},{"t":2014.29,"v":1.3},{"t":2014.42,"v":-0.43},{"t":2014.61,"v":-1.08},{"t":2014.8,"v":-2.16},{"t":2014.99,"v":-2.81},{"t":2015.11,"v":-3.45},{"t":2015.3,"v":-2.81},{"t":2015.49,"v":-2.81},{"t":2015.68,"v":-3.02},{"t":2015.87,"v":-2.81},{"t":2016.06,"v":-3.02},{"t":2016.25,"v":-3.24},{"t":2016.38,"v":-3.32},{"t":2016.57,"v":-2.16},{"t":2016.76,"v":-1.94},{"t":2016.95,"v":-0.86},{"t":2017.14,"v":1.51},{"t":2017.33,"v":2.59},{"t":2017.52,"v":2.81},{"t":2017.64,"v":3.67},{"t":2017.79,"v":4.32},{"t":2017.96,"v":3.89},{"t":2018.15,"v":3.24},{"t":2018.34,"v":2.16},{"t":2018.53,"v":1.94},{"t":2018.72,"v":0.86},{"t":2018.78,"v":0.43}],
  "p7_hwwi": [{"t":2005.06,"v":12.6},{"t":2005.19,"v":-4.6},{"t":2005.38,"v":-10.0},{"t":2005.51,"v":-12.6},{"t":2005.7,"v":-8.9},{"t":2005.82,"v":-12.2},{"t":2005.95,"v":-6.8},{"t":2006.14,"v":12.6},{"t":2006.26,"v":11.5},{"t":2006.37,"v":15.8},{"t":2006.52,"v":19.0},{"t":2006.64,"v":25.5},{"t":2006.77,"v":24.4},{"t":2006.87,"v":14.1},{"t":2007.02,"v":0.8},{"t":2007.21,"v":5.1},{"t":2007.34,"v":9.4},{"t":2007.47,"v":11.5},{"t":2007.65,"v":5.1},{"t":2007.78,"v":6.1},{"t":2007.91,"v":2.9},{"t":2008.03,"v":15.8},{"t":2008.16,"v":20.1},{"t":2008.29,"v":27.6},{"t":2008.41,"v":21.2},{"t":2008.6,"v":43.8},{"t":2008.73,"v":56.7},{"t":2008.86,"v":62.0},{"t":2008.98,"v":59.9},{"t":2009.11,"v":58.8},{"t":2009.24,"v":43.8},{"t":2009.36,"v":20.1},{"t":2009.49,"v":15.8},{"t":2009.61,"v":5.1},{"t":2009.74,"v":0.8},{"t":2009.87,"v":6.1},{"t":2009.99,"v":-1.4},{"t":2010.12,"v":-8.9},{"t":2010.25,"v":0.8},{"t":2010.37,"v":15.8},{"t":2010.5,"v":15.8},{"t":2010.63,"v":6.1},{"t":2010.75,"v":2.9},{"t":2010.88,"v":-1.4},{"t":2011.01,"v":7.2},{"t":2011.13,"v":18.0},{"t":2011.26,"v":28.7},{"t":2011.45,"v":35.2},{"t":2011.64,"v":45.9},{"t":2011.76,"v":42.7},{"t":2011.89,"v":44.8},{"t":2012.08,"v":33.0},{"t":2012.23,"v":24.4},{"t":2012.33,"v":13.7},{"t":2012.46,"v":-5.7},{"t":2012.59,"v":-10.0},{"t":2012.78,"v":-11.1},{"t":2012.96,"v":-10.4},{"t":2013.09,"v":1.8},{"t":2013.22,"v":-0.3},{"t":2013.34,"v":-1.4},{"t":2013.53,"v":-2.5},{"t":2013.72,"v":-1.4},{"t":2013.91,"v":-3.5},{"t":2014.04,"v":-1.4},{"t":2014.17,"v":-20.8},{"t":2014.29,"v":-19.7},{"t":2014.46,"v":-15.4},{"t":2014.61,"v":-12.2},{"t":2014.8,"v":-2.5},{"t":2014.92,"v":-7.8},{"t":2015.11,"v":-12.2},{"t":2015.24,"v":-2.5},{"t":2015.43,"v":4.0},{"t":2015.62,"v":4.0},{"t":2015.75,"v":-10.0},{"t":2015.94,"v":-19.7},{"t":2016.1,"v":-5.7},{"t":2016.25,"v":-10.0},{"t":2016.44,"v":-12.2},{"t":2016.63,"v":-7.8},{"t":2016.82,"v":5.1},{"t":2016.99,"v":21.2},{"t":2017.14,"v":24.4},{"t":2017.26,"v":31.9},{"t":2017.39,"v":35.2},{"t":2017.52,"v":31.9},{"t":2017.64,"v":33.0},{"t":2017.77,"v":20.1},{"t":2017.92,"v":-1.4},{"t":2018.15,"v":-5.7},{"t":2018.34,"v":-13.9},{"t":2018.47,"v":-14.3},{"t":2018.64,"v":-18.6},{"t":2018.78,"v":-11.1},{"t":2018.91,"v":-1.4},{"t":2019.03,"v":-5.7},{"t":2019.13,"v":-8.9},{"t":2019.22,"v":-6.8},{"t":2019.31,"v":-4.6},{"t":2019.41,"v":-3.5}],
  "p8_gas": [{"t":2013.011,"v":98.1},{"t":2013.063,"v":98.6},{"t":2013.116,"v":100.9},{"t":2013.168,"v":104.3},{"t":2013.221,"v":102.8},{"t":2013.274,"v":100.5},{"t":2013.326,"v":99.0},{"t":2013.405,"v":98.6},{"t":2013.484,"v":99.0},{"t":2013.563,"v":100.1},{"t":2013.616,"v":101.3},{"t":2013.695,"v":101.6},{"t":2013.747,"v":99.8},{"t":2013.826,"v":97.9},{"t":2013.905,"v":96.5},{"t":2013.984,"v":96.8},{"t":2014.063,"v":96.0},{"t":2014.142,"v":96.3},{"t":2014.221,"v":96.0},{"t":2014.3,"v":96.3},{"t":2014.379,"v":96.4},{"t":2014.458,"v":96.8},{"t":2014.537,"v":97.1},{"t":2014.589,"v":96.5},{"t":2014.668,"v":95.8},{"t":2014.747,"v":95.6},{"t":2014.816,"v":92.6},{"t":2014.879,"v":90.8},{"t":2014.932,"v":88.9},{"t":2014.974,"v":84.4},{"t":2015.037,"v":81.0},{"t":2015.079,"v":80.3},{"t":2015.142,"v":82.1},{"t":2015.221,"v":83.6},{"t":2015.3,"v":84.8},{"t":2015.379,"v":85.7},{"t":2015.458,"v":86.5},{"t":2015.537,"v":86.8},{"t":2015.616,"v":86.3},{"t":2015.679,"v":83.6},{"t":2015.747,"v":81.4},{"t":2015.826,"v":80.6},{"t":2015.905,"v":79.9},{"t":2015.974,"v":77.8},{"t":2016.037,"v":76.1},{"t":2016.116,"v":75.4},{"t":2016.184,"v":75.5},{"t":2016.247,"v":77.3},{"t":2016.326,"v":79.5},{"t":2016.405,"v":81.8},{"t":2016.484,"v":82.9},{"t":2016.563,"v":83.0},{"t":2016.642,"v":82.1},{"t":2016.721,"v":82.5},{"t":2016.8,"v":84.4},{"t":2016.853,"v":86.6},{"t":2016.905,"v":85.5},{"t":2016.958,"v":87.0},{"t":2017.037,"v":88.1},{"t":2017.116,"v":89.3},{"t":2017.195,"v":89.0},{"t":2017.274,"v":87.4},{"t":2017.326,"v":87.8},{"t":2017.379,"v":86.3},{"t":2017.458,"v":85.9},{"t":2017.537,"v":84.5},{"t":2017.616,"v":85.1},{"t":2017.695,"v":87.0},{"t":2017.747,"v":88.1},{"t":2017.8,"v":87.0},{"t":2017.879,"v":88.1},{"t":2017.958,"v":88.9},{"t":2018.037,"v":90.4},{"t":2018.116,"v":89.3},{"t":2018.168,"v":88.1},{"t":2018.247,"v":88.9},{"t":2018.326,"v":92.3},{"t":2018.432,"v":95.6},{"t":2018.511,"v":94.9},{"t":2018.589,"v":94.9},{"t":2018.668,"v":96.4},{"t":2018.747,"v":97.5},{"t":2018.8,"v":97.1},{"t":2018.853,"v":96.0},{"t":2018.889,"v":94.1},{"t":2018.921,"v":92.6}],
  "p8_dies": [{"t":2013.011,"v":99.4},{"t":2013.116,"v":102.4},{"t":2013.168,"v":103.7},{"t":2013.247,"v":101.3},{"t":2013.326,"v":99.8},{"t":2013.405,"v":99.2},{"t":2013.484,"v":99.5},{"t":2013.563,"v":100.7},{"t":2013.642,"v":101.6},{"t":2013.721,"v":101.3},{"t":2013.8,"v":99.0},{"t":2013.879,"v":97.9},{"t":2013.984,"v":97.5},{"t":2014.063,"v":97.1},{"t":2014.168,"v":96.8},{"t":2014.274,"v":96.8},{"t":2014.379,"v":96.5},{"t":2014.484,"v":97.0},{"t":2014.589,"v":96.4},{"t":2014.668,"v":95.0},{"t":2014.747,"v":94.5},{"t":2014.826,"v":91.5},{"t":2014.905,"v":89.3},{"t":2014.958,"v":85.9},{"t":2015.037,"v":80.6},{"t":2015.089,"v":80.6},{"t":2015.153,"v":82.9},{"t":2015.247,"v":84.4},{"t":2015.353,"v":85.7},{"t":2015.458,"v":86.0},{"t":2015.563,"v":85.1},{"t":2015.642,"v":82.5},{"t":2015.721,"v":80.6},{"t":2015.826,"v":79.5},{"t":2015.921,"v":78.0},{"t":2015.984,"v":75.4},{"t":2016.063,"v":72.4},{"t":2016.142,"v":71.8},{"t":2016.221,"v":73.1},{"t":2016.3,"v":75.8},{"t":2016.379,"v":78.0},{"t":2016.458,"v":79.5},{"t":2016.563,"v":80.3},{"t":2016.668,"v":79.9},{"t":2016.747,"v":81.4},{"t":2016.853,"v":83.3},{"t":2016.932,"v":83.6},{"t":2017.037,"v":85.5},{"t":2017.116,"v":87.0},{"t":2017.195,"v":87.4},{"t":2017.274,"v":86.6},{"t":2017.353,"v":85.5},{"t":2017.432,"v":83.6},{"t":2017.511,"v":82.3},{"t":2017.589,"v":82.9},{"t":2017.668,"v":84.8},{"t":2017.747,"v":86.3},{"t":2017.826,"v":87.0},{"t":2017.932,"v":87.4},{"t":2018.037,"v":88.0},{"t":2018.116,"v":88.5},{"t":2018.195,"v":87.4},{"t":2018.274,"v":88.9},{"t":2018.353,"v":92.3},{"t":2018.458,"v":94.1},{"t":2018.563,"v":94.1},{"t":2018.668,"v":95.6},{"t":2018.774,"v":97.3},{"t":2018.853,"v":96.7},{"t":2018.921,"v":95.6}],
  "p8_brent": [{"t":2013.011,"v":99.4},{"t":2013.063,"v":103.2},{"t":2013.168,"v":107.1},{"t":2013.221,"v":105.2},{"t":2013.274,"v":95.5},{"t":2013.311,"v":92.6},{"t":2013.353,"v":97.5},{"t":2013.432,"v":98.4},{"t":2013.511,"v":101.3},{"t":2013.563,"v":104.2},{"t":2013.626,"v":102.3},{"t":2013.679,"v":107.5},{"t":2013.721,"v":101.3},{"t":2013.774,"v":96.5},{"t":2013.853,"v":95.5},{"t":2013.905,"v":99.4},{"t":2013.958,"v":97.5},{"t":2014.011,"v":95.5},{"t":2014.063,"v":96.5},{"t":2014.142,"v":94.6},{"t":2014.195,"v":93.6},{"t":2014.247,"v":92.6},{"t":2014.3,"v":93.6},{"t":2014.353,"v":94.6},{"t":2014.405,"v":93.6},{"t":2014.458,"v":96.5},{"t":2014.511,"v":91.7},{"t":2014.563,"v":89.7},{"t":2014.616,"v":87.8},{"t":2014.668,"v":86.9},{"t":2014.721,"v":84.0},{"t":2014.774,"v":78.2},{"t":2014.826,"v":74.3},{"t":2014.879,"v":70.5},{"t":2014.932,"v":64.7},{"t":2014.974,"v":53.1},{"t":2015.011,"v":45.4},{"t":2015.047,"v":43.5},{"t":2015.089,"v":47.4},{"t":2015.142,"v":50.3},{"t":2015.205,"v":53.1},{"t":2015.274,"v":56.0},{"t":2015.342,"v":58.9},{"t":2015.405,"v":61.8},{"t":2015.458,"v":58.0},{"t":2015.511,"v":53.1},{"t":2015.563,"v":51.2},{"t":2015.616,"v":44.5},{"t":2015.668,"v":39.7},{"t":2015.721,"v":42.5},{"t":2015.8,"v":41.6},{"t":2015.853,"v":44.5},{"t":2015.905,"v":38.7},{"t":2015.958,"v":34.8},{"t":2016.026,"v":32.9},{"t":2016.079,"v":30.0},{"t":2016.116,"v":31.6},{"t":2016.168,"v":35.8},{"t":2016.221,"v":38.7},{"t":2016.274,"v":42.5},{"t":2016.342,"v":45.4},{"t":2016.405,"v":49.3},{"t":2016.468,"v":51.2},{"t":2016.537,"v":48.3},{"t":2016.605,"v":52.2},{"t":2016.668,"v":50.3},{"t":2016.732,"v":52.2},{"t":2016.8,"v":55.1},{"t":2016.853,"v":49.3},{"t":2016.905,"v":58.9},{"t":2016.958,"v":59.9},{"t":2017.011,"v":62.8},{"t":2017.063,"v":64.7},{"t":2017.116,"v":63.7},{"t":2017.168,"v":61.8},{"t":2017.221,"v":62.8},{"t":2017.274,"v":59.9},{"t":2017.326,"v":55.1},{"t":2017.379,"v":54.1},{"t":2017.447,"v":51.2},{"t":2017.511,"v":54.1},{"t":2017.574,"v":57.0},{"t":2017.642,"v":59.9},{"t":2017.695,"v":61.8},{"t":2017.747,"v":63.7},{"t":2017.8,"v":68.6},{"t":2017.853,"v":69.5},{"t":2017.905,"v":68.6},{"t":2017.958,"v":70.5},{"t":2018.026,"v":73.4},{"t":2018.079,"v":70.5},{"t":2018.132,"v":66.6},{"t":2018.195,"v":68.6},{"t":2018.247,"v":72.4},{"t":2018.3,"v":77.2},{"t":2018.363,"v":84.9},{"t":2018.416,"v":83.0},{"t":2018.458,"v":78.2},{"t":2018.511,"v":81.1},{"t":2018.574,"v":79.2},{"t":2018.626,"v":83.0},{"t":2018.695,"v":87.8},{"t":2018.747,"v":94.6},{"t":2018.784,"v":89.7},{"t":2018.826,"v":84.0},{"t":2018.868,"v":74.3},{"t":2018.9,"v":67.6},{"t":2018.921,"v":64.7},{"t":2018.942,"v":68.6}]
},
"vconcat": [
 {"hconcat": [
  {"width": 486, "height": 300,
   "layer": [
    {"layer": [
     {"data": {"values": [{"g":3},{"g":1},{"g":-1},{"g":-3},{"g":-5},{"g":-7}]}, "mark": {"type":"rule","stroke":"#ffffff","strokeWidth":1},
      "encoding": {"y": {"field":"g","type":"quantitative","scale":{"domain":[-13.5113,8.4345]},"title":null,"axis":{"orient":"left","offset":-54.5,"tickCount":50,"values":[-7,-6,-5,-4,-3,-2,-1,0,1,2,3,4],"labelExpr":"datum.value % 2 != 0 && datum.value < 4 ? replace(format(datum.value,'.1f'),'−','-') : ''","labelPadding":5,"title":null}},
       "x": {"datum":2006.35,"type":"quantitative","scale":{"domain":[2004.5333,2020.7333]}}, "x2": {"datum":2018.89}}},
     {"data": {"values": [{}]}, "mark": {"type":"rule","stroke":"#8a8a8a","strokeWidth":3}, "encoding": {"y": {"datum":8.4345,"type":"quantitative","scale":{"domain":[-13.5113,8.4345]}}}},
     {"data": {"values": [{}]}, "mark": {"type":"rule","stroke":"#8a8a8a","strokeWidth":3}, "encoding": {"y": {"datum":-13.5113,"type":"quantitative","scale":{"domain":[-13.5113,8.4345]}}}},
     {"data": {"values": [{}]}, "mark": {"type":"rule","stroke":"#9b9b9b","strokeWidth":1}, "encoding": {"y": {"datum":5.3255,"type":"quantitative","scale":{"domain":[-13.5113,8.4345]}}}},
     {"data": {"values": [{}]}, "mark": {"type":"rule","stroke":"#9b9b9b","strokeWidth":1}, "encoding": {"y": {"datum":-10.7315,"type":"quantitative","scale":{"domain":[-13.5113,8.4345]}}}},
     {"data": {"values": [{}]}, "mark": {"type":"text","align":"left","baseline":"middle","fontSize":17.3,"fill":"#1c1c1c","text":"GDP growth still slower than in the rest of the world"},
      "encoding": {"x": {"datum":2004.6833,"type":"quantitative","scale":{"domain":[2004.5333,2020.7333]}},"y": {"datum":6.898,"type":"quantitative","scale":{"domain":[-13.5113,8.4345]}}}},
     {"data": {"values": [{}]}, "mark": {"type":"text","align":"left","baseline":"middle","fontSize":13.7,"fontStyle":"italic","fill":"#2a2a2a","text":"Source: ONS, Eurostat, BEA, Macrobond Financial, Danske Bank calculations"},
      "encoding": {"x": {"datum":2004.6833,"type":"quantitative","scale":{"domain":[2004.5333,2020.7333]}},"y": {"datum":-12.1215,"type":"quantitative","scale":{"domain":[-13.5113,8.4345]}}}},
     {"data": {"values": [{}]}, "mark": {"type":"rule","stroke":"#000000","strokeWidth":1,"strokeDash":[3,2]},
      "encoding": {"x": {"datum":2006.3333,"type":"quantitative","scale":{"domain":[2004.5333,2020.7333]}},"x2": {"datum":2019.056},"y": {"datum":0,"type":"quantitative","scale":{"domain":[-13.5113,8.4345]}}}},
     {"data": {"values": [{}]}, "mark": {"type":"text","align":"left","baseline":"middle","fontSize":14.8,"fill":"#1c1c1c","text":"% y/y"},
      "encoding": {"x": {"datum":2006.4333,"type":"quantitative","scale":{"domain":[2004.5333,2020.7333]}},"y": {"datum":4,"type":"quantitative","scale":{"domain":[-13.5113,8.4345]}}}},
     {"data": {"values": [{}]}, "mark": {"type":"text","align":"center","baseline":"middle","fontSize":14.8,"fill":"#1c1c1c","text":"GDP growth"},
      "encoding": {"x": {"datum":2013.3333,"type":"quantitative","scale":{"domain":[2004.5333,2020.7333]}},"y": {"datum":3.95,"type":"quantitative","scale":{"domain":[-13.5113,8.4345]}}}},
     {"data": {"values": [{}]}, "mark": {"type":"text","align":"center","baseline":"middle","fontSize":14.8,"fill":"#0e3b5e","text":"Euro area"},
      "encoding": {"x": {"datum":2014.0,"type":"quantitative","scale":{"domain":[2004.5333,2020.7333]}},"y": {"datum":-2.39,"type":"quantitative","scale":{"domain":[-13.5113,8.4345]}}}},
     {"data": {"values": [{}]}, "mark": {"type":"text","align":"center","baseline":"middle","fontSize":14.8,"fill":"#8f8f8f","text":"US"},
      "encoding": {"x": {"datum":2016.4,"type":"quantitative","scale":{"domain":[2004.5333,2020.7333]}},"y": {"datum":-1.075,"type":"quantitative","scale":{"domain":[-13.5113,8.4345]}}}},
     {"data": {"values": [{}]}, "mark": {"type":"text","align":"center","baseline":"middle","fontSize":14.8,"fill":"#c41a24","text":"UK"},
      "encoding": {"x": {"datum":2011.2667,"type":"quantitative","scale":{"domain":[2004.5333,2020.7333]}},"y": {"datum":-4.587,"type":"quantitative","scale":{"domain":[-13.5113,8.4345]}}}},
     {"data": {"name":"p1_ea"}, "mark": {"type":"line","stroke":"#0e3b5e","strokeWidth":2.5},
      "encoding": {"x": {"field":"t","type":"quantitative","scale":{"domain":[2004.5333,2020.7333]},"title":null,"axis":{"orient":"bottom","offset":-79,"tickCount":50,"values":[2006,2007,2008,2009,2010,2011,2012,2013,2014,2015,2016,2017,2018],"labelExpr":"substring(format(datum.value,'d'),2)","labelOffset":15,"labelPadding":2,"labelOverlap":false,"tickOpacity":{"condition":{"test":"datum.value < 2007","value":0},"value":1},"title":null}},
       "y": {"field":"v","type":"quantitative","scale":{"domain":[-13.5113,8.4345]},"title":null}}},
     {"data": {"name":"p1_uk"}, "mark": {"type":"line","stroke":"#c41a24","strokeWidth":2.5},
      "encoding": {"x": {"field":"t","type":"quantitative","scale":{"domain":[2004.5333,2020.7333]},"title":null},"y": {"field":"v","type":"quantitative","scale":{"domain":[-13.5113,8.4345]},"title":null}}},
     {"data": {"name":"p1_us"}, "mark": {"type":"line","stroke":"#8f8f8f","strokeWidth":2.5},
      "encoding": {"x": {"field":"t","type":"quantitative","scale":{"domain":[2004.5333,2020.7333]},"title":null},"y": {"field":"v","type":"quantitative","scale":{"domain":[-13.5113,8.4345]},"title":null}}}
    ]},
    {"layer": [
     {"data": {"values": [{}]}, "mark": {"type":"text","align":"right","baseline":"middle","fontSize":14.8,"fill":"#1c1c1c","text":"% y/y"},
      "encoding": {"x": {"datum":2018.8333,"type":"quantitative","scale":{"domain":[2004.5333,2020.7333]}},
       "y": {"datum":4,"type":"quantitative","scale":{"domain":[-13.5113,8.4345]},"title":null,"axis":{"orient":"right","offset":-55.3,"tickCount":50,"values":[-7,-6,-5,-4,-3,-2,-1,0,1,2,3,4],"labelExpr":"datum.value % 2 != 0 && datum.value < 4 ? replace(format(datum.value,'.1f'),'−','-') : ''","labelAlign":"right","labelPadding":36,"title":null}}}}
    ]}
   ],
   "resolve": {"scale": {"y": "independent"}}},
  {"width": 486, "height": 300,
   "layer": [
    {"layer": [
     {"data": {"values": [{"g":6},{"g":4},{"g":2},{"g":0},{"g":-2},{"g":-4}]}, "mark": {"type":"rule","stroke":"#ffffff","strokeWidth":1},
      "encoding": {"y": {"field":"g","type":"quantitative","scale":{"domain":[-9.4805,10.0]},"title":null,"axis":{"orient":"left","offset":-35,"tickCount":50,"values":[-4,-3,-2,-1,0,1,2,3,4,5,6],"labelExpr":"datum.value % 2 == 0 ? replace(format(datum.value,'d'),'−','-') : ''","labelPadding":5,"title":null}},
       "x": {"datum":2007.875,"type":"quantitative","scale":{"domain":[2006.9394,2019.934],"padding":0}}, "x2": {"datum":2018.963}}},
     {"data": {"values": [{}]}, "mark": {"type":"rule","stroke":"#8a8a8a","strokeWidth":3}, "encoding": {"y": {"datum":10.0,"type":"quantitative","scale":{"domain":[-9.4805,10.0]}}}},
     {"data": {"values": [{}]}, "mark": {"type":"rule","stroke":"#8a8a8a","strokeWidth":3}, "encoding": {"y": {"datum":-9.4805,"type":"quantitative","scale":{"domain":[-9.4805,10.0]}}}},
     {"data": {"values": [{}]}, "mark": {"type":"rule","stroke":"#9b9b9b","strokeWidth":1}, "encoding": {"y": {"datum":7.24,"type":"quantitative","scale":{"domain":[-9.4805,10.0]}}}},
     {"data": {"values": [{}]}, "mark": {"type":"rule","stroke":"#9b9b9b","strokeWidth":1}, "encoding": {"y": {"datum":-7.013,"type":"quantitative","scale":{"domain":[-9.4805,10.0]}}}},
     {"data": {"values": [{}]}, "mark": {"type":"text","align":"left","baseline":"middle","fontSize":17.3,"fill":"#1c1c1c","text":"Real wage growth still subdued"},
      "encoding": {"x": {"datum":2007.068,"type":"quantitative","scale":{"domain":[2006.9394,2019.934]}},"y": {"datum":8.636,"type":"quantitative","scale":{"domain":[-9.4805,10.0]}}}},
     {"data": {"values": [{}]}, "mark": {"type":"text","align":"left","baseline":"middle","fontSize":13.7,"fontStyle":"italic","fill":"#2a2a2a","text":"Source: ONS, Macrobond Financial, Danske Bank"},
      "encoding": {"x": {"datum":2007.068,"type":"quantitative","scale":{"domain":[2006.9394,2019.934]}},"y": {"datum":-8.247,"type":"quantitative","scale":{"domain":[-9.4805,10.0]}}}},
     {"data": {"values": [{}]}, "mark": {"type":"text","align":"left","baseline":"middle","fontSize":14.8,"fill":"#1c1c1c","text":"% y/y"},
      "encoding": {"x": {"datum":2007.974,"type":"quantitative","scale":{"domain":[2006.9394,2019.934]}},"y": {"datum":6,"type":"quantitative","scale":{"domain":[-9.4805,10.0]}}}},
     {"data": {"values": [{}]}, "mark": {"type":"text","align":"center","baseline":"middle","fontSize":14.8,"fill":"#0e3b5e","text":"CPI inflation"},
      "encoding": {"x": {"datum":2010.549,"type":"quantitative","scale":{"domain":[2006.9394,2019.934]}},"y": {"datum":5.65,"type":"quantitative","scale":{"domain":[-9.4805,10.0]}}}},
     {"data": {"values": [{}]}, "mark": {"type":"text","align":"center","baseline":"middle","fontSize":14.8,"fill":"#1c1c1c","text":"UK"},
      "encoding": {"x": {"datum":2013.597,"type":"quantitative","scale":{"domain":[2006.9394,2019.934]}},"y": {"datum":5.97,"type":"quantitative","scale":{"domain":[-9.4805,10.0]}}}},
     {"data": {"values": [{}]}, "mark": {"type":"text","align":"center","baseline":"middle","fontSize":14.8,"fill":"#c41a24","text":"Regular pay, 3m MA"},
      "encoding": {"x": {"datum":2015.843,"type":"quantitative","scale":{"domain":[2006.9394,2019.934]}},"y": {"datum":4.48,"type":"quantitative","scale":{"domain":[-9.4805,10.0]}}}},
     {"data": {"values": [{}]}, "mark": {"type":"text","align":"center","baseline":"middle","fontSize":14.8,"fill":"#999999","text":"Real wage growth"},
      "encoding": {"x": {"datum":2010.014,"type":"quantitative","scale":{"domain":[2006.9394,2019.934]}},"y": {"datum":-3.83,"type":"quantitative","scale":{"domain":[-9.4805,10.0]}}}},
     {"data": {"name":"p2_rw"}, "mark": {"type":"bar","width":2,"fill":"#9a9a9a"},
      "encoding": {"x": {"field":"t","type":"quantitative","scale":{"domain":[2006.9394,2019.934],"padding":0},"title":null,"axis":{"orient":"bottom","offset":-75,"tickCount":50,"values":[2008,2009,2010,2011,2012,2013,2014,2015,2016,2017,2018],"labelExpr":"substring(format(datum.value,'d'),2)","labelOffset":18.7,"labelPadding":2,"labelOverlap":false,"title":null}},
       "y": {"field":"v","type":"quantitative","scale":{"domain":[-9.4805,10.0]},"title":null}}},
     {"data": {"name":"p2_cpi"}, "mark": {"type":"line","stroke":"#0e3b5e","strokeWidth":2.5},
      "encoding": {"x": {"field":"t","type":"quantitative","scale":{"domain":[2006.9394,2019.934]},"title":null},"y": {"field":"v","type":"quantitative","scale":{"domain":[-9.4805,10.0]},"title":null}}},
     {"data": {"name":"p2_pay"}, "mark": {"type":"line","stroke":"#c41a24","strokeWidth":2.5},
      "encoding": {"x": {"field":"t","type":"quantitative","scale":{"domain":[2006.9394,2019.934]},"title":null},"y": {"field":"v","type":"quantitative","scale":{"domain":[-9.4805,10.0]},"title":null}}}
    ]},
    {"layer": [
     {"data": {"values": [{}]}, "mark": {"type":"text","align":"right","baseline":"middle","fontSize":14.8,"fill":"#1c1c1c","text":"% y/y"},
      "encoding": {"x": {"datum":2018.49,"type":"quantitative","scale":{"domain":[2006.9394,2019.934]}},
       "y": {"datum":6,"type":"quantitative","scale":{"domain":[-9.4805,10.0]},"title":null,"axis":{"orient":"right","offset":-36.3,"tickCount":50,"values":[-4,-3,-2,-1,0,1,2,3,4,5,6],"labelExpr":"datum.value % 2 == 0 ? replace(format(datum.value,'d'),'−','-') : ''","labelAlign":"right","labelPadding":16,"title":null}}}}
    ]}
   ],
   "resolve": {"scale": {"y": "independent"}}}
 ], "spacing": 31, "bounds": "flush"},
 {"hconcat": [
  {"width": 486, "height": 300,
   "layer": [
    {"layer": [
     {"data": {"values": [{"g":8.5},{"g":7.5},{"g":6.5},{"g":5.5},{"g":4.5},{"g":3.5}]}, "mark": {"type":"rule","stroke":"#ffffff","strokeWidth":1},
      "encoding": {"y": {"field":"g","type":"quantitative","scale":{"domain":[0.557,11.195]},"title":null,"axis":{"orient":"left","offset":-42,"tickCount":50,"values":[3.5,4,4.5,5,5.5,6,6.5,7,7.5,8,8.5,9],"labelExpr":"datum.value <= 8.5 && (datum.value*2) % 2 == 1 ? format(datum.value,'.1f') : ''","labelPadding":5,"title":null}},
       "x": {"datum":2006.889,"type":"quantitative","scale":{"domain":[2005.6203,2020.3029]}}, "x2": {"datum":2018.853}}},
     {"data": {"values": [{}]}, "mark": {"type":"rule","stroke":"#8a8a8a","strokeWidth":3}, "encoding": {"y": {"datum":11.195,"type":"quantitative","scale":{"domain":[0.557,11.195]}}}},
     {"data": {"values": [{}]}, "mark": {"type":"rule","stroke":"#8a8a8a","strokeWidth":3}, "encoding": {"y": {"datum":0.557,"type":"quantitative","scale":{"domain":[0.557,11.195]}}}},
     {"data": {"values": [{}]}, "mark": {"type":"rule","stroke":"#9b9b9b","strokeWidth":1}, "encoding": {"y": {"datum":9.66,"type":"quantitative","scale":{"domain":[0.557,11.195]}}}},
     {"data": {"values": [{}]}, "mark": {"type":"text","align":"left","baseline":"middle","fontSize":17.3,"fill":"#1c1c1c","text":"Unemployment rate ticked higher to 4.1% in September"},
      "encoding": {"x": {"datum":2005.7659,"type":"quantitative","scale":{"domain":[2005.6203,2020.3029]}},"y": {"datum":10.404,"type":"quantitative","scale":{"domain":[0.557,11.195]}}}},
     {"data": {"values": [{}]}, "mark": {"type":"text","align":"left","baseline":"middle","fontSize":13.7,"fontStyle":"italic","fill":"#2a2a2a","text":"Source: ONS, Bank of England, Macrobond Financial"},
      "encoding": {"x": {"datum":2005.7659,"type":"quantitative","scale":{"domain":[2005.6203,2020.3029]}},"y": {"datum":1.2057,"type":"quantitative","scale":{"domain":[0.557,11.195]}}}},
     {"data": {"values": [{}]}, "mark": {"type":"rule","stroke":"#1c1c1c","strokeWidth":1},
      "encoding": {"x": {"datum":2006.859,"type":"quantitative","scale":{"domain":[2005.6203,2020.3029]}},"x2": {"datum":2018.884},"y": {"datum":4.233,"type":"quantitative","scale":{"domain":[0.557,11.195]}}}},
     {"data": {"values": [{}]}, "mark": {"type":"text","align":"left","baseline":"middle","fontSize":14.8,"fill":"#1c1c1c","text":"%"},
      "encoding": {"x": {"datum":2007.0,"type":"quantitative","scale":{"domain":[2005.6203,2020.3029]}},"y": {"datum":9.0,"type":"quantitative","scale":{"domain":[0.557,11.195]}}}},
     {"data": {"values": [{}]}, "mark": {"type":"text","align":"center","baseline":"middle","fontSize":14.8,"fill":"#1c1c1c","text":"UK, unemployment rate"},
      "encoding": {"x": {"datum":2013.355,"type":"quantitative","scale":{"domain":[2005.6203,2020.3029]}},"y": {"datum":8.98,"type":"quantitative","scale":{"domain":[0.557,11.195]}}}},
     {"data": {"values": [{}]}, "mark": {"type":"text","align":"center","baseline":"middle","fontSize":14.8,"fill":"#0e3b5e","text":"Single month rate"},
      "encoding": {"x": {"datum":2011.33,"type":"quantitative","scale":{"domain":[2005.6203,2020.3029]}},"y": {"datum":6.727,"type":"quantitative","scale":{"domain":[0.557,11.195]}}}},
     {"data": {"values": [{}]}, "mark": {"type":"text","align":"center","baseline":"middle","fontSize":14.8,"fill":"#c41a24","text":"Headline (3m MA)"},
      "encoding": {"x": {"datum":2011.058,"type":"quantitative","scale":{"domain":[2005.6203,2020.3029]}},"y": {"datum":5.344,"type":"quantitative","scale":{"domain":[0.557,11.195]}}}},
     {"data": {"values": [{}]}, "mark": {"type":"text","align":"center","baseline":"middle","fontSize":12.5,"fill":"#1c1c1c","text":"BoE's NAIRU estimate"},
      "encoding": {"x": {"datum":2011.058,"type":"quantitative","scale":{"domain":[2005.6203,2020.3029]}},"y": {"datum":4.635,"type":"quantitative","scale":{"domain":[0.557,11.195]}}}},
     {"data": {"name":"p3_single"}, "mark": {"type":"line","stroke":"#0e3b5e","strokeWidth":1.6},
      "encoding": {"x": {"field":"t","type":"quantitative","scale":{"domain":[2005.6203,2020.3029]},"title":null,"axis":{"orient":"bottom","offset":-73.3,"tickCount":50,"values":[2007,2008,2009,2010,2011,2012,2013,2014,2015,2016,2017,2018],"labelExpr":"substring(format(datum.value,'d'),2)","labelOffset":16.5,"labelPadding":2,"labelOverlap":false,"title":null}},
       "y": {"field":"v","type":"quantitative","scale":{"domain":[0.557,11.195]},"title":null}}},
     {"data": {"name":"p3_head"}, "mark": {"type":"line","stroke":"#c41a24","strokeWidth":3.2},
      "encoding": {"x": {"field":"t","type":"quantitative","scale":{"domain":[2005.6203,2020.3029]},"title":null},"y": {"field":"v","type":"quantitative","scale":{"domain":[0.557,11.195]},"title":null}}},
     {"data": {"values": [{}]}, "mark": {"type":"rect","fill":"#0e3b5e"},
      "encoding": {"x": {"datum":2019.033,"type":"quantitative","scale":{"domain":[2005.6203,2020.3029]}},"x2": {"datum":2020.0},"y": {"datum":4.17,"type":"quantitative","scale":{"domain":[0.557,11.195]}},"y2": {"datum":4.66}}},
     {"data": {"values": [{}]}, "mark": {"type":"point","shape":"triangle-left","filled":true,"fill":"#0e3b5e","opacity":1,"size":70},
      "encoding": {"x": {"datum":2018.93,"type":"quantitative","scale":{"domain":[2005.6203,2020.3029]}},"y": {"datum":4.25,"type":"quantitative","scale":{"domain":[0.557,11.195]}}}},
     {"data": {"values": [{}]}, "mark": {"type":"text","align":"center","baseline":"middle","fontSize":13,"fill":"#ffffff","text":"4.16"},
      "encoding": {"x": {"datum":2019.52,"type":"quantitative","scale":{"domain":[2005.6203,2020.3029]}},"y": {"datum":4.415,"type":"quantitative","scale":{"domain":[0.557,11.195]}}}},
     {"data": {"values": [{}]}, "mark": {"type":"rect","fill":"#c41a24"},
      "encoding": {"x": {"datum":2019.033,"type":"quantitative","scale":{"domain":[2005.6203,2020.3029]}},"x2": {"datum":2020.0},"y": {"datum":3.53,"type":"quantitative","scale":{"domain":[0.557,11.195]}},"y2": {"datum":4.0}}},
     {"data": {"values": [{}]}, "mark": {"type":"point","shape":"triangle-left","filled":true,"fill":"#c41a24","opacity":1,"size":70},
      "encoding": {"x": {"datum":2018.93,"type":"quantitative","scale":{"domain":[2005.6203,2020.3029]}},"y": {"datum":3.92,"type":"quantitative","scale":{"domain":[0.557,11.195]}}}},
     {"data": {"values": [{}]}, "mark": {"type":"text","align":"center","baseline":"middle","fontSize":13,"fill":"#ffffff","text":"4.10"},
      "encoding": {"x": {"datum":2019.52,"type":"quantitative","scale":{"domain":[2005.6203,2020.3029]}},"y": {"datum":3.765,"type":"quantitative","scale":{"domain":[0.557,11.195]}}}}
    ]},
    {"layer": [
     {"data": {"values": [{}]}, "mark": {"type":"text","align":"right","baseline":"middle","fontSize":14.8,"fill":"#1c1c1c","text":"%"},
      "encoding": {"x": {"datum":2018.7829,"type":"quantitative","scale":{"domain":[2005.6203,2020.3029]}},
       "y": {"datum":9.0,"type":"quantitative","scale":{"domain":[0.557,11.195]},"title":null,"axis":{"orient":"right","offset":-48,"tickCount":50,"values":[3.5,4,4.5,5,5.5,6,6.5,7,7.5,8,8.5,9],"labelExpr":"datum.value <= 8.5 && datum.value != 4.5 && (datum.value*2) % 2 == 1 ? format(datum.value,'.1f') : ''","labelAlign":"right","labelPadding":27.7,"title":null}}}}
    ]}
   ],
   "resolve": {"scale": {"y": "independent"}}},
  {"width": 486, "height": 300,
   "layer": [
    {"layer": [
     {"data": {"values": [{"g":5.0},{"g":4.5},{"g":4.0},{"g":3.5},{"g":3.0},{"g":2.5},{"g":2.0},{"g":1.5}]}, "mark": {"type":"rule","stroke":"#ffffff","strokeWidth":1},
      "encoding": {"y": {"field":"g","type":"quantitative","scale":{"domain":[-0.369,6.418]},"title":null,"axis":{"orient":"left","offset":-43.7,"tickCount":50,"values":[1.5,2,2.5,3,3.5,4,4.5,5],"labelExpr":"format(datum.value,'.1f')","labelPadding":4,"title":null}},
       "x": {"datum":1999.809,"type":"quantitative","scale":{"domain":[1997.7046,2021.1072]}}, "x2": {"datum":2018.5}}},
     {"data": {"values": [{}]}, "mark": {"type":"rule","stroke":"#8a8a8a","strokeWidth":3}, "encoding": {"y": {"datum":6.418,"type":"quantitative","scale":{"domain":[-0.369,6.418]}}}},
     {"data": {"values": [{}]}, "mark": {"type":"rule","stroke":"#9b9b9b","strokeWidth":1}, "encoding": {"y": {"datum":5.438,"type":"quantitative","scale":{"domain":[-0.369,6.418]}}}},
     {"data": {"values": [{}]}, "mark": {"type":"text","align":"left","baseline":"middle","fontSize":17.3,"fill":"#1c1c1c","text":"Probably still some slack left in the labour market"},
      "encoding": {"x": {"datum":1997.936,"type":"quantitative","scale":{"domain":[1997.7046,2021.1072]}},"y": {"datum":5.913,"type":"quantitative","scale":{"domain":[-0.369,6.418]}}}},
     {"data": {"values": [{}]}, "mark": {"type":"text","align":"left","baseline":"middle","fontSize":13.7,"fontStyle":"italic","fill":"#2a2a2a","text":"Source: ONS, Macrobond Financial"},
      "encoding": {"x": {"datum":1997.936,"type":"quantitative","scale":{"domain":[1997.7046,2021.1072]}},"y": {"datum":0.0445,"type":"quantitative","scale":{"domain":[-0.369,6.418]}}}},
     {"data": {"values": [{}]}, "mark": {"type":"text","align":"left","baseline":"middle","fontSize":14.8,"fill":"#1c1c1c","text":"% of labour force"},
      "encoding": {"x": {"datum":1999.934,"type":"quantitative","scale":{"domain":[1997.7046,2021.1072]}},"y": {"datum":4.98,"type":"quantitative","scale":{"domain":[-0.369,6.418]}}}},
     {"data": {"values": [{}]}, "mark": {"type":"text","align":"left","baseline":"middle","fontSize":14.8,"fill":"#0e3b5e","text":"Part-time workers"},
      "encoding": {"x": {"datum":2000.965,"type":"quantitative","scale":{"domain":[1997.7046,2021.1072]}},"y": {"datum":3.929,"type":"quantitative","scale":{"domain":[-0.369,6.418]}}}},
     {"data": {"values": [{}]}, "mark": {"type":"text","align":"left","baseline":"middle","fontSize":14.8,"fill":"#0e3b5e","text":"could not find full-time job"},
      "encoding": {"x": {"datum":2000.965,"type":"quantitative","scale":{"domain":[1997.7046,2021.1072]}},"y": {"datum":3.567,"type":"quantitative","scale":{"domain":[-0.369,6.418]}}}},
     {"data": {"name":"p4_pt"}, "mark": {"type":"line","stroke":"#0e3b5e","strokeWidth":3},
      "encoding": {"x": {"field":"t","type":"quantitative","scale":{"domain":[1997.7046,2021.1072]},"title":null,"axis":{"orient":"bottom","offset":-73.3,"tickCount":50,"values":[2000,2002,2004,2006,2008,2010,2012,2014,2016,2018],"labelExpr":"substring(format(datum.value,'d'),2)","labelPadding":2,"labelOverlap":false,"title":null}},
       "y": {"field":"v","type":"quantitative","scale":{"domain":[-0.369,6.418]},"title":null}}}
    ]},
    {"layer": [
     {"data": {"values": [{}]}, "mark": {"type":"rule","stroke":"#8a8a8a","strokeWidth":3},
      "encoding": {"y": {"datum":-0.369,"type":"quantitative","scale":{"domain":[-0.369,6.418]},"title":null,"axis":{"orient":"right","offset":-54,"tickCount":50,"values":[1.5,2,2.5,3,3.5,4,4.5,5],"labelExpr":"format(datum.value,'.1f')","labelAlign":"right","labelPadding":36,"title":null}}}}
    ]}
   ],
   "resolve": {"scale": {"y": "independent"}}}
 ], "spacing": 31, "bounds": "flush"},
 {"hconcat": [
  {"width": 486, "height": 290,
   "layer": [
    {"layer": [
     {"data": {"values": [{"g":3.5},{"g":2.5},{"g":1.5},{"g":0.5},{"g":-0.5},{"g":-1.5}]}, "mark": {"type":"rule","stroke":"#ffffff","strokeWidth":1},
      "encoding": {"y": {"field":"g","type":"quantitative","scale":{"domain":[-4.362,5.638]},"title":null,"axis":{"orient":"left","offset":-46,"tickCount":50,"values":[-1.5,-1,-0.5,0,0.5,1,1.5,2,2.5,3,3.5],"labelExpr":"(datum.value*2) % 2 != 0 ? replace(format(datum.value,'.1f'),'−','-') : ''","labelPadding":5,"title":null}},
       "x": {"datum":2014.885,"type":"quantitative","scale":{"domain":[2014.419,2019.3445],"padding":0}}, "x2": {"datum":2018.868}}},
     {"data": {"values": [{}]}, "mark": {"type":"rule","stroke":"#8a8a8a","strokeWidth":3}, "encoding": {"y": {"datum":5.638,"type":"quantitative","scale":{"domain":[-4.362,5.638]}}}},
     {"data": {"values": [{}]}, "mark": {"type":"rule","stroke":"#8a8a8a","strokeWidth":3}, "encoding": {"y": {"datum":-4.362,"type":"quantitative","scale":{"domain":[-4.362,5.638]}}}},
     {"data": {"values": [{}]}, "mark": {"type":"rule","stroke":"#9b9b9b","strokeWidth":1}, "encoding": {"y": {"datum":4.121,"type":"quantitative","scale":{"domain":[-4.362,5.638]}}}},
     {"data": {"values": [{}]}, "mark": {"type":"text","align":"left","baseline":"middle","fontSize":17.3,"fill":"#1c1c1c","text":"CPI inflation is set to move down gradually..."},
      "encoding": {"x": {"datum":2014.468,"type":"quantitative","scale":{"domain":[2014.419,2019.3445]}},"y": {"datum":4.81,"type":"quantitative","scale":{"domain":[-4.362,5.638]}}}},
     {"data": {"values": [{}]}, "mark": {"type":"text","align":"left","baseline":"middle","fontSize":13.7,"fontStyle":"italic","fill":"#2a2a2a","text":"Source: ONS, Macrobond Financial, Danske Bank"},
      "encoding": {"x": {"datum":2014.468,"type":"quantitative","scale":{"domain":[2014.419,2019.3445]}},"y": {"datum":-3.697,"type":"quantitative","scale":{"domain":[-4.362,5.638]}}}},
     {"data": {"values": [{}]}, "mark": {"type":"text","align":"left","baseline":"middle","fontSize":14.8,"fill":"#1c1c1c","text":"% y/y"},
      "encoding": {"x": {"datum":2014.908,"type":"quantitative","scale":{"domain":[2014.419,2019.3445]}},"y": {"datum":3.48,"type":"quantitative","scale":{"domain":[-4.362,5.638]}}}},
     {"data": {"values": [{}]}, "mark": {"type":"text","align":"center","baseline":"middle","fontSize":14.7,"fill":"#1c1c1c","text":"Contributions to CPI inflation"},
      "encoding": {"x": {"datum":2016.943,"type":"quantitative","scale":{"domain":[2014.419,2019.3445]}},"y": {"datum":3.48,"type":"quantitative","scale":{"domain":[-4.362,5.638]}}}},
     {"data": {"values": [{}]}, "mark": {"type":"text","align":"center","baseline":"middle","fontSize":14.8,"fill":"#93abc6","text":"Services"},
      "encoding": {"x": {"datum":2015.5915,"type":"quantitative","scale":{"domain":[2014.419,2019.3445]}},"y": {"datum":2.741,"type":"quantitative","scale":{"domain":[-4.362,5.638]}}}},
     {"data": {"values": [{}]}, "mark": {"type":"text","align":"center","baseline":"middle","fontSize":14.8,"fill":"#8a8a8a","text":"Food, alcohol & tobacco"},
      "encoding": {"x": {"datum":2016.8644,"type":"quantitative","scale":{"domain":[2014.419,2019.3445]}},"y": {"datum":2.741,"type":"quantitative","scale":{"domain":[-4.362,5.638]}}}},
     {"data": {"values": [{}]}, "mark": {"type":"text","align":"center","baseline":"middle","fontSize":14.8,"fill":"#0e3b5e","text":"CPI"},
      "encoding": {"x": {"datum":2015.9867,"type":"quantitative","scale":{"domain":[2014.419,2019.3445]}},"y": {"datum":1.741,"type":"quantitative","scale":{"domain":[-4.362,5.638]}}}},
     {"data": {"values": [{}]}, "mark": {"type":"text","align":"center","baseline":"middle","fontSize":14.8,"fill":"#e07352","text":"Non-energy industrial goods"},
      "encoding": {"x": {"datum":2016.2331,"type":"quantitative","scale":{"domain":[2014.419,2019.3445]}},"y": {"datum":-1.214,"type":"quantitative","scale":{"domain":[-4.362,5.638]}}}},
     {"data": {"values": [{}]}, "mark": {"type":"text","align":"center","baseline":"middle","fontSize":14.8,"fill":"#c41a24","text":"Energy"},
      "encoding": {"x": {"datum":2017.9154,"type":"quantitative","scale":{"domain":[2014.419,2019.3445]}},"y": {"datum":-1.338,"type":"quantitative","scale":{"domain":[-4.362,5.638]}}}},
     {"data": {"name":"p5_bars"}, "transform": [{"fold": ["Core","Energy","Food","Services"], "as": ["c","v"]}],
      "mark": {"type":"bar","width":6.5},
      "encoding": {"x": {"field":"t","type":"quantitative","scale":{"domain":[2014.419,2019.3445],"padding":0},"title":null,"axis":{"orient":"bottom","offset":-74.3,"tickCount":50,"values":[2015,2016,2017,2018],"labelExpr":"format(datum.value,'d')","labelOffset":49.3,"labelPadding":3,"labelOverlap":false,"title":null}},
       "y": {"field":"v","type":"quantitative","stack":"zero","scale":{"domain":[-4.362,5.638]},"title":null},
       "color": {"field":"c","type":"nominal","scale":{"domain":["Core","Energy","Food","Services"],"range":["#e07352","#b5141c","#7d7d7d","#93abc6"]},"legend":null},
       "order": {"field":"c","type":"nominal","sort":"ascending"}}},
     {"data": {"values": [{}]}, "mark": {"type":"rule","stroke":"#000000","strokeWidth":2},
      "encoding": {"x": {"datum":2014.9663,"type":"quantitative","scale":{"domain":[2014.419,2019.3445]}},"x2": {"datum":2018.8474},"y": {"datum":0,"type":"quantitative","scale":{"domain":[-4.362,5.638]}}}},
     {"data": {"name":"p5_cpi"}, "mark": {"type":"line","stroke":"#0e3b5e","strokeWidth":2.5},
      "encoding": {"x": {"field":"t","type":"quantitative","scale":{"domain":[2014.419,2019.3445]},"title":null},"y": {"field":"v","type":"quantitative","scale":{"domain":[-4.362,5.638]},"title":null}}}
    ]},
    {"layer": [
     {"data": {"values": [{}]}, "mark": {"type":"text","align":"right","baseline":"middle","fontSize":14.8,"fill":"#1c1c1c","text":"% y/y"},
      "encoding": {"x": {"datum":2018.76,"type":"quantitative","scale":{"domain":[2014.419,2019.3445]}},
       "y": {"datum":3.48,"type":"quantitative","scale":{"domain":[-4.362,5.638]},"title":null,"axis":{"orient":"right","offset":-47,"tickCount":50,"values":[-1.5,-1,-0.5,0,0.5,1,1.5,2,2.5,3,3.5],"labelExpr":"(datum.value*2) % 2 != 0 ? replace(format(datum.value,'.1f'),'−','-') : ''","labelAlign":"right","labelPadding":30,"title":null}}}}
    ]}
   ],
   "resolve": {"scale": {"y": "independent"}}},
  {"width": 486, "height": 290,
   "layer": [
    {"layer": [
     {"data": {"values": [{"g":25},{"g":20},{"g":15},{"g":10},{"g":5},{"g":-5},{"g":-10}]}, "mark": {"type":"rule","stroke":"#ffffff","strokeWidth":1},
      "encoding": {"y": {"field":"g","type":"quantitative","scale":{"domain":[-29.365,39.683]},"title":null,"axis":{"orient":"left","offset":-51,"tickCount":50,"values":[-10,-5,0,5,10,15,20,25],"labelExpr":"replace(format(datum.value,'d'),'−','-')","labelPadding":5.5,"title":null}},
       "x": {"datum":1998.875,"type":"quantitative","scale":{"domain":[1996.143,2022.1786]}}, "x2": {"datum":2019.109}}},
     {"data": {"values": [{}]}, "mark": {"type":"rule","stroke":"#8a8a8a","strokeWidth":3}, "encoding": {"y": {"datum":39.683,"type":"quantitative","scale":{"domain":[-29.365,39.683]}}}},
     {"data": {"values": [{}]}, "mark": {"type":"rule","stroke":"#8a8a8a","strokeWidth":3}, "encoding": {"y": {"datum":-29.365,"type":"quantitative","scale":{"domain":[-29.365,39.683]}}}},
     {"data": {"values": [{}]}, "mark": {"type":"rule","stroke":"#9b9b9b","strokeWidth":1}, "encoding": {"y": {"datum":29.2,"type":"quantitative","scale":{"domain":[-29.365,39.683]}}}},
     {"data": {"values": [{}]}, "mark": {"type":"text","align":"left","baseline":"middle","fontSize":17.3,"fill":"#1c1c1c","text":"...as import price inflation has peaked"},
      "encoding": {"x": {"datum":1996.4,"type":"quantitative","scale":{"domain":[1996.143,2022.1786]}},"y": {"datum":33.968,"type":"quantitative","scale":{"domain":[-29.365,39.683]}}}},
     {"data": {"values": [{}]}, "mark": {"type":"text","align":"left","baseline":"middle","fontSize":13.7,"fontStyle":"italic","fill":"#2a2a2a","text":"Source: ONS, Bank of England, Macrobond Financial"},
      "encoding": {"x": {"datum":1996.4,"type":"quantitative","scale":{"domain":[1996.143,2022.1786]}},"y": {"datum":-24.762,"type":"quantitative","scale":{"domain":[-29.365,39.683]}}}},
     {"data": {"values": [{}]}, "mark": {"type":"rule","stroke":"#000000","strokeWidth":1,"strokeDash":[3,2]},
      "encoding": {"x": {"datum":1998.929,"type":"quantitative","scale":{"domain":[1996.143,2022.1786]}},"x2": {"datum":2019.109},"y": {"datum":0,"type":"quantitative","scale":{"domain":[-29.365,39.683]}}}},
     {"data": {"values": [{}]}, "mark": {"type":"text","align":"left","baseline":"middle","fontSize":14.8,"fill":"#1c1c1c","text":"% y/y"},
      "encoding": {"x": {"datum":1998.982,"type":"quantitative","scale":{"domain":[1996.143,2022.1786]}},"y": {"datum":24.7,"type":"quantitative","scale":{"domain":[-29.365,39.683]}}}},
     {"data": {"values": [{}]}, "mark": {"type":"text","align":"center","baseline":"middle","fontSize":14.8,"fill":"#1c1c1c","text":"UK"},
      "encoding": {"x": {"datum":2009.107,"type":"quantitative","scale":{"domain":[1996.143,2022.1786]}},"y": {"datum":24.7,"type":"quantitative","scale":{"domain":[-29.365,39.683]}}}},
     {"data": {"values": [{}]}, "mark": {"type":"text","align":"right","baseline":"middle","fontSize":14,"fill":"#1c1c1c","text":"% y/y"},
      "encoding": {"x": {"datum":2018.659,"type":"quantitative","scale":{"domain":[1996.143,2022.1786]}},"y": {"datum":24.8,"type":"quantitative","scale":{"domain":[-29.365,39.683]}}}},
     {"data": {"values": [{}]}, "mark": {"type":"text","align":"right","baseline":"middle","fontSize":14,"fill":"#1c1c1c","text":"(reversed)"},
      "encoding": {"x": {"datum":2018.659,"type":"quantitative","scale":{"domain":[1996.143,2022.1786]}},"y": {"datum":20.9,"type":"quantitative","scale":{"domain":[-29.365,39.683]}}}},
     {"data": {"values": [{}]}, "mark": {"type":"text","align":"left","baseline":"middle","fontSize":11,"fill":"#1c1c1c","text":"weaker GBP,"},
      "encoding": {"x": {"datum":2000.895,"type":"quantitative","scale":{"domain":[1996.143,2022.1786]}},"y": {"datum":17.3,"type":"quantitative","scale":{"domain":[-29.365,39.683]}}}},
     {"data": {"values": [{}]}, "mark": {"type":"text","align":"left","baseline":"middle","fontSize":11,"fill":"#1c1c1c","text":"higher import prices"},
      "encoding": {"x": {"datum":2000.895,"type":"quantitative","scale":{"domain":[1996.143,2022.1786]}},"y": {"datum":14.68,"type":"quantitative","scale":{"domain":[-29.365,39.683]}}}},
     {"data": {"values": [{}]}, "mark": {"type":"rule","stroke":"#1c1c1c","strokeWidth":1},
      "encoding": {"x": {"datum":2000.446,"type":"quantitative","scale":{"domain":[1996.143,2022.1786]}},"y": {"datum":13.73,"type":"quantitative","scale":{"domain":[-29.365,39.683]}},"y2": {"datum":20.87}}},
     {"data": {"values": [{}]}, "mark": {"type":"point","shape":"M -1 1 L 0 0 L 1 1","filled":false,"stroke":"#1c1c1c","strokeWidth":1,"opacity":1,"size":45},
      "encoding": {"x": {"datum":2000.446,"type":"quantitative","scale":{"domain":[1996.143,2022.1786]}},"y": {"datum":20.87,"type":"quantitative","scale":{"domain":[-29.365,39.683]}}}},
     {"data": {"values": [{}]}, "mark": {"type":"text","align":"left","baseline":"middle","fontSize":13.8,"fill":"#0e3b5e","text":"Import prices,"},
      "encoding": {"x": {"datum":2011.159,"type":"quantitative","scale":{"domain":[1996.143,2022.1786]}},"y": {"datum":14.1,"type":"quantitative","scale":{"domain":[-29.365,39.683]}}}},
     {"data": {"values": [{}]}, "mark": {"type":"text","align":"left","baseline":"middle","fontSize":13.8,"fill":"#0e3b5e","text":"ex oil (lhs)"},
      "encoding": {"x": {"datum":2011.159,"type":"quantitative","scale":{"domain":[1996.143,2022.1786]}},"y": {"datum":10.1,"type":"quantitative","scale":{"domain":[-29.365,39.683]}}}},
     {"data": {"values": [{}]}, "mark": {"type":"text","align":"center","baseline":"middle","fontSize":14.8,"fill":"#c41a24","text":"Trade weighted GBP (rhs)"},
      "encoding": {"x": {"datum":2009.107,"type":"quantitative","scale":{"domain":[1996.143,2022.1786]}},"y": {"datum":-6.746,"type":"quantitative","scale":{"domain":[-29.365,39.683]}}}},
     {"data": {"name":"p6_imp"}, "mark": {"type":"line","stroke":"#0e3b5e","strokeWidth":2.2},
      "encoding": {"x": {"field":"t","type":"quantitative","scale":{"domain":[1996.143,2022.1786]},"title":null,"axis":{"orient":"bottom","offset":-72.7,"tickCount":50,"values":[2000,2002,2004,2006,2008,2010,2012,2014,2016,2018],"labelExpr":"substring(format(datum.value,'d'),2)","labelPadding":2,"labelOverlap":false,"title":null}},
       "y": {"field":"v","type":"quantitative","scale":{"domain":[-29.365,39.683]},"title":null}}},
     {"data": {"values": [{}]}, "mark": {"type":"rect","fill":"#c41a24"},
      "encoding": {"x": {"datum":2019.41,"type":"quantitative","scale":{"domain":[1996.143,2022.1786]}},"x2": {"datum":2021.335},"y": {"datum":2.54,"type":"quantitative","scale":{"domain":[-29.365,39.683]}},"y2": {"datum":5.75}}},
     {"data": {"values": [{}]}, "mark": {"type":"point","shape":"triangle-left","filled":true,"fill":"#c41a24","opacity":1,"size":70},
      "encoding": {"x": {"datum":2019.2,"type":"quantitative","scale":{"domain":[1996.143,2022.1786]}},"y": {"datum":4.15,"type":"quantitative","scale":{"domain":[-29.365,39.683]}}}},
     {"data": {"values": [{}]}, "mark": {"type":"text","align":"center","baseline":"middle","fontSize":13,"fill":"#ffffff","text":"-1.44"},
      "encoding": {"x": {"datum":2020.37,"type":"quantitative","scale":{"domain":[1996.143,2022.1786]}},"y": {"datum":4.15,"type":"quantitative","scale":{"domain":[-29.365,39.683]}}}},
     {"data": {"values": [{}]}, "mark": {"type":"rect","fill":"#0e3b5e"},
      "encoding": {"x": {"datum":2019.41,"type":"quantitative","scale":{"domain":[1996.143,2022.1786]}},"x2": {"datum":2021.335},"y": {"datum":-1.34,"type":"quantitative","scale":{"domain":[-29.365,39.683]}},"y2": {"datum":2.06}}},
     {"data": {"values": [{}]}, "mark": {"type":"point","shape":"triangle-left","filled":true,"fill":"#0e3b5e","opacity":1,"size":70},
      "encoding": {"x": {"datum":2019.2,"type":"quantitative","scale":{"domain":[1996.143,2022.1786]}},"y": {"datum":0.5,"type":"quantitative","scale":{"domain":[-29.365,39.683]}}}},
     {"data": {"values": [{}]}, "mark": {"type":"text","align":"center","baseline":"middle","fontSize":13,"fill":"#ffffff","text":"0.732"},
      "encoding": {"x": {"datum":2020.37,"type":"quantitative","scale":{"domain":[1996.143,2022.1786]}},"y": {"datum":0.36,"type":"quantitative","scale":{"domain":[-29.365,39.683]}}}}
    ]},
    {"layer": [
     {"data": {"name":"p6_gbp"}, "mark": {"type":"line","stroke":"#c41a24","strokeWidth":1.8},
      "encoding": {"x": {"field":"t","type":"quantitative","scale":{"domain":[1996.143,2022.1786]},"title":null},
       "y": {"field":"v","type":"quantitative","scale":{"domain":[-41.818,37.274],"reverse":true},"title":null,"axis":{"orient":"right","offset":-57.3,"tickCount":50,"values":[-25,-20,-15,-10,-5,0,5,10,15],"labelExpr":"(datum.value + 25) % 10 == 0 && datum.value != 5 ? replace(format(datum.value,'d'),'−','-') : ''","labelAlign":"right","labelPadding":33.7,"title":null}}}}
    ]}
   ],
   "resolve": {"scale": {"y": "independent"}}}
 ], "spacing": 31, "bounds": "flush"},
 {"hconcat": [
  {"width": 486, "height": 300,
   "layer": [
    {"layer": [
     {"data": {"values": [{"g":15},{"g":10},{"g":5},{"g":-5}]}, "mark": {"type":"rule","stroke":"#ffffff","strokeWidth":1},
      "encoding": {"y": {"field":"g","type":"quantitative","scale":{"domain":[-15.803,23.057]},"title":null,"axis":{"orient":"left","offset":-51,"tickCount":50,"values":[-5,-2.5,0,2.5,5,7.5,10,12.5,15],"labelExpr":"datum.value % 5 == 0 ? replace(format(datum.value,'.1f'),'−','-') : ''","labelPadding":4,"title":null}},
       "x": {"datum":2004.825,"type":"quantitative","scale":{"domain":[2002.889,2021.3208]}}, "x2": {"datum":2019.65}}},
     {"data": {"values": [{}]}, "mark": {"type":"rule","stroke":"#8a8a8a","strokeWidth":3}, "encoding": {"y": {"datum":23.057,"type":"quantitative","scale":{"domain":[-15.803,23.057]}}}},
     {"data": {"values": [{}]}, "mark": {"type":"rule","stroke":"#8a8a8a","strokeWidth":3}, "encoding": {"y": {"datum":-15.803,"type":"quantitative","scale":{"domain":[-15.803,23.057]}}}},
     {"data": {"values": [{}]}, "mark": {"type":"rule","stroke":"#9b9b9b","strokeWidth":1}, "encoding": {"y": {"datum":17.487,"type":"quantitative","scale":{"domain":[-15.803,23.057]}}}},
     {"data": {"values": [{}]}, "mark": {"type":"text","align":"left","baseline":"middle","fontSize":17.3,"fill":"#1c1c1c","text":"Food price inflation has peaked"},
      "encoding": {"x": {"datum":2003.071,"type":"quantitative","scale":{"domain":[2002.889,2021.3208]}},"y": {"datum":20.078,"type":"quantitative","scale":{"domain":[-15.803,23.057]}}}},
     {"data": {"values": [{}]}, "mark": {"type":"text","align":"left","baseline":"middle","fontSize":13.7,"fontStyle":"italic","fill":"#2a2a2a","text":"Source: ONS, Bloomberg, Macrobond Financial"},
      "encoding": {"x": {"datum":2003.071,"type":"quantitative","scale":{"domain":[2002.889,2021.3208]}},"y": {"datum":-13.251,"type":"quantitative","scale":{"domain":[-15.803,23.057]}}}},
     {"data": {"values": [{}]}, "mark": {"type":"rule","stroke":"#000000","strokeWidth":1,"strokeDash":[3,2]},
      "encoding": {"x": {"datum":2004.872,"type":"quantitative","scale":{"domain":[2002.889,2021.3208]}},"x2": {"datum":2019.474},"y": {"datum":0,"type":"quantitative","scale":{"domain":[-15.803,23.057]}}}},
     {"data": {"values": [{}]}, "mark": {"type":"text","align":"left","baseline":"middle","fontSize":14.8,"fill":"#1c1c1c","text":"% y/y"},
      "encoding": {"x": {"datum":2004.937,"type":"quantitative","scale":{"domain":[2002.889,2021.3208]}},"y": {"datum":14.8,"type":"quantitative","scale":{"domain":[-15.803,23.057]}}}},
     {"data": {"values": [{}]}, "mark": {"type":"text","align":"center","baseline":"middle","fontSize":14.3,"fill":"#0e3b5e","text":"CPI food (lhs)"},
      "encoding": {"x": {"datum":2012.143,"type":"quantitative","scale":{"domain":[2002.889,2021.3208]}},"y": {"datum":14.5,"type":"quantitative","scale":{"domain":[-15.803,23.057]}}}},
     {"data": {"values": [{}]}, "mark": {"type":"text","align":"right","baseline":"middle","fontSize":14.8,"fill":"#1c1c1c","text":"% y/y"},
      "encoding": {"x": {"datum":2019.41,"type":"quantitative","scale":{"domain":[2002.889,2021.3208]}},"y": {"datum":14.8,"type":"quantitative","scale":{"domain":[-15.803,23.057]}}}},
     {"data": {"values": [{}]}, "mark": {"type":"text","align":"left","baseline":"middle","fontSize":14.9,"fill":"#c41a24","text":"HWWI food index, GBP (7m lead) (rhs)"},
      "encoding": {"x": {"datum":2005.354,"type":"quantitative","scale":{"domain":[2002.889,2021.3208]}},"y": {"datum":-4.534,"type":"quantitative","scale":{"domain":[-15.803,23.057]}}}},
     {"data": {"name":"p7_cpi"}, "mark": {"type":"line","stroke":"#0e3b5e","strokeWidth":2.5},
      "encoding": {"x": {"field":"t","type":"quantitative","scale":{"domain":[2002.889,2021.3208]},"title":null,"axis":{"orient":"bottom","offset":-73.7,"tickCount":50,"values":[2005,2006,2007,2008,2009,2010,2011,2012,2013,2014,2015,2016,2017,2018,2019],"labelExpr":"substring(format(datum.value,'d'),2)","labelOffset":13.2,"labelPadding":2,"labelOverlap":false,"title":null}},
       "y": {"field":"v","type":"quantitative","scale":{"domain":[-15.803,23.057]},"title":null}}}
    ]},
    {"layer": [
     {"data": {"name":"p7_hwwi"}, "mark": {"type":"line","stroke":"#c41a24","strokeWidth":2.5},
      "encoding": {"x": {"field":"t","type":"quantitative","scale":{"domain":[2002.889,2021.3208]},"title":null},
       "y": {"field":"v","type":"quantitative","scale":{"domain":[-83.335,110.215]},"title":null,"axis":{"orient":"right","offset":-44,"tickCount":50,"values":[-30,-20,-10,0,10,20,30,40,50,60,70],"labelExpr":"(datum.value + 30) % 20 == 0 ? replace(format(datum.value,'d'),'−','-') : ''","labelAlign":"right","labelPadding":26,"title":null}}}}
    ]}
   ],
   "resolve": {"scale": {"y": "independent"}}},
  {"width": 486, "height": 300,
   "layer": [
    {"layer": [
     {"data": {"values": [{"g":105},{"g":100},{"g":95},{"g":90},{"g":85},{"g":80},{"g":75},{"g":70}]}, "mark": {"type":"rule","stroke":"#ffffff","strokeWidth":1},
      "encoding": {"y": {"field":"g","type":"quantitative","scale":{"domain":[51.335,118.8]},"title":null,"axis":{"orient":"left","offset":-51,"tickCount":50,"values":[70,75,80,85,90,95,100,105],"labelExpr":"format(datum.value,'d')","labelPadding":5.5,"title":null}},
       "x": {"datum":2012.942,"type":"quantitative","scale":{"domain":[2012.1368,2019.8107]}}, "x2": {"datum":2018.99}}},
     {"data": {"values": [{}]}, "mark": {"type":"rule","stroke":"#8a8a8a","strokeWidth":3}, "encoding": {"y": {"datum":118.8,"type":"quantitative","scale":{"domain":[51.335,118.8]}}}},
     {"data": {"values": [{}]}, "mark": {"type":"rule","stroke":"#8a8a8a","strokeWidth":3}, "encoding": {"y": {"datum":51.335,"type":"quantitative","scale":{"domain":[51.335,118.8]}}}},
     {"data": {"values": [{}]}, "mark": {"type":"rule","stroke":"#9b9b9b","strokeWidth":1}, "encoding": {"y": {"datum":109.13,"type":"quantitative","scale":{"domain":[51.335,118.8]}}}},
     {"data": {"values": [{}]}, "mark": {"type":"text","align":"left","baseline":"middle","fontSize":17.3,"fill":"#1c1c1c","text":"Oil price declines to lead to lower headline inflation"},
      "encoding": {"x": {"datum":2012.2126,"type":"quantitative","scale":{"domain":[2012.1368,2019.8107]}},"y": {"datum":113.627,"type":"quantitative","scale":{"domain":[51.335,118.8]}}}},
     {"data": {"values": [{}]}, "mark": {"type":"text","align":"left","baseline":"middle","fontSize":13.7,"fontStyle":"italic","fill":"#2a2a2a","text":"Source: Bloomberg, UK government, Macrobond Financial"},
      "encoding": {"x": {"datum":2012.2126,"type":"quantitative","scale":{"domain":[2012.1368,2019.8107]}},"y": {"datum":55.765,"type":"quantitative","scale":{"domain":[51.335,118.8]}}}},
     {"data": {"values": [{}]}, "mark": {"type":"text","align":"left","baseline":"middle","fontSize":14.8,"fill":"#1c1c1c","text":"Index 2013=100"},
      "encoding": {"x": {"datum":2012.974,"type":"quantitative","scale":{"domain":[2012.1368,2019.8107]}},"y": {"datum":104.8,"type":"quantitative","scale":{"domain":[51.335,118.8]}}}},
     {"data": {"values": [{}]}, "mark": {"type":"text","align":"right","baseline":"middle","fontSize":14.8,"fill":"#1c1c1c","text":"Index 2013=100"},
      "encoding": {"x": {"datum":2018.485,"type":"quantitative","scale":{"domain":[2012.1368,2019.8107]}},"y": {"datum":104.8,"type":"quantitative","scale":{"domain":[51.335,118.8]}}}},
     {"data": {"values": [{}]}, "mark": {"type":"text","align":"left","baseline":"middle","fontSize":14.8,"fill":"#8f8f8f","text":"Diesel prices (lhs)"},
      "encoding": {"x": {"datum":2013.237,"type":"quantitative","scale":{"domain":[2012.1368,2019.8107]}},"y": {"datum":83.268,"type":"quantitative","scale":{"domain":[51.335,118.8]}}}},
     {"data": {"values": [{}]}, "mark": {"type":"text","align":"left","baseline":"middle","fontSize":14.8,"fill":"#c41a24","text":"Brent oil price (rhs)"},
      "encoding": {"x": {"datum":2013.447,"type":"quantitative","scale":{"domain":[2012.1368,2019.8107]}},"y": {"datum":78.253,"type":"quantitative","scale":{"domain":[51.335,118.8]}}}},
     {"data": {"values": [{}]}, "mark": {"type":"text","align":"left","baseline":"middle","fontSize":14.8,"fill":"#0e3b5e","text":"Gasoline prices (lhs)"},
      "encoding": {"x": {"datum":2013.526,"type":"quantitative","scale":{"domain":[2012.1368,2019.8107]}},"y": {"datum":73.148,"type":"quantitative","scale":{"domain":[51.335,118.8]}}}},
     {"data": {"name":"p8_gas"}, "mark": {"type":"line","stroke":"#0e3b5e","strokeWidth":2.5},
      "encoding": {"x": {"field":"t","type":"quantitative","scale":{"domain":[2012.1368,2019.8107]},"title":null,"axis":{"orient":"bottom","offset":-73.7,"tickCount":50,"values":[2013,2014,2015,2016,2017,2018],"labelExpr":"substring(format(datum.value,'d'),2)","labelOffset":31.7,"labelPadding":2,"labelOverlap":false,"title":null}},
       "y": {"field":"v","type":"quantitative","scale":{"domain":[51.335,118.8]},"title":null}}},
     {"data": {"name":"p8_dies"}, "mark": {"type":"line","stroke":"#8f8f8f","strokeWidth":3},
      "encoding": {"x": {"field":"t","type":"quantitative","scale":{"domain":[2012.1368,2019.8107]},"title":null},"y": {"field":"v","type":"quantitative","scale":{"domain":[51.335,118.8]},"title":null}}}
    ]},
    {"layer": [
     {"data": {"name":"p8_brent"}, "mark": {"type":"line","stroke":"#c41a24","strokeWidth":1.6},
      "encoding": {"x": {"field":"t","type":"quantitative","scale":{"domain":[2012.1368,2019.8107]},"title":null},
       "y": {"field":"v","type":"quantitative","scale":{"domain":[-27.977,145.43]},"title":null,"axis":{"orient":"right","offset":-52,"tickCount":50,"values":[20,30,40,50,60,70,80,90,100,110],"labelExpr":"datum.value % 20 == 0 && datum.value <= 100 ? format(datum.value,'d') : ''","labelAlign":"right","labelPadding":33,"title":null}}}}
    ]}
   ],
   "resolve": {"scale": {"y": "independent"}}}
 ], "spacing": 31, "bounds": "flush"}
],
"spacing": 18
}
